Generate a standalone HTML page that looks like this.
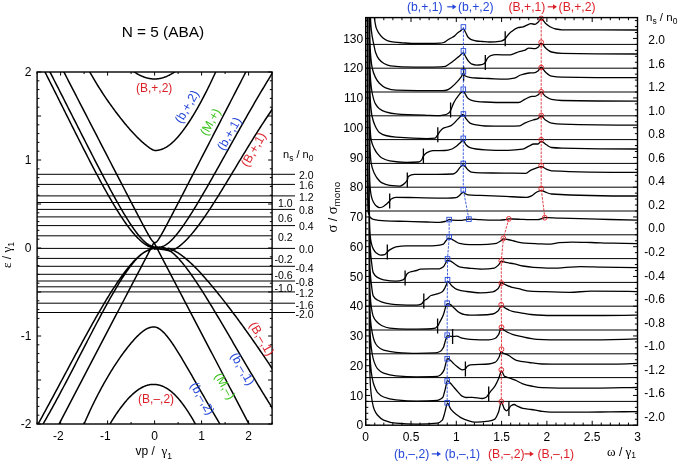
<!DOCTYPE html>
<html><head><meta charset="utf-8"><title>N = 5 (ABA)</title>
<style>html,body{margin:0;padding:0;background:#fff;overflow:hidden}svg{display:block;will-change:transform}text{font-family:"Liberation Sans",sans-serif}</style>
</head><body>
<svg width="679" height="463" viewBox="0 0 679 463" font-family="Liberation Sans, sans-serif"><rect width="679" height="463" fill="#fff"/>
<defs><clipPath id="cl"><rect x="37.1" y="72" width="235" height="352"/></clipPath>
<clipPath id="cr"><rect x="365.7" y="17.6" width="271.8" height="407.6"/></clipPath></defs>
<text x="162.9" y="37" font-size="15.4" text-anchor="middle" fill="#000" >N = 5 (ABA)</text>
<path d="M37.1,174.3H295 M37.1,184.4H295 M37.1,195.9H295 M37.1,209.4H295 M37.1,225.6H295 M37.1,248.4H295 M37.1,266.3H295 M37.1,281H295 M37.1,291.9H295 M37.1,303.2H295 M37.1,312.5H295 M37.1,202.5H272.1 M37.1,216.9H272.1 M37.1,235.8H272.1 M37.1,258.4H272.1 M37.1,274.3H272.1 M37.1,286.8H272.1" stroke="#000" stroke-width="1" fill="none"/>
<text x="299" y="179.1" font-size="10.5" text-anchor="start" fill="#000" >2.0</text>
<text x="299" y="189.2" font-size="10.5" text-anchor="start" fill="#000" >1.6</text>
<text x="299" y="200.7" font-size="10.5" text-anchor="start" fill="#000" >1.2</text>
<text x="299" y="214.2" font-size="10.5" text-anchor="start" fill="#000" >0.8</text>
<text x="299" y="230.4" font-size="10.5" text-anchor="start" fill="#000" >0.4</text>
<text x="299" y="253.2" font-size="10.5" text-anchor="start" fill="#000" >0.0</text>
<text x="295.4" y="271.6" font-size="10.5" text-anchor="start" fill="#000" >-0.4</text>
<text x="295.4" y="286.3" font-size="10.5" text-anchor="start" fill="#000" >-0.8</text>
<text x="295.4" y="297.2" font-size="10.5" text-anchor="start" fill="#000" >-1.2</text>
<text x="295.4" y="308.5" font-size="10.5" text-anchor="start" fill="#000" >-1.6</text>
<text x="295.4" y="317.8" font-size="10.5" text-anchor="start" fill="#000" >-2.0</text>
<text x="292.6" y="207.3" font-size="10.5" text-anchor="end" fill="#000" >1.0</text>
<text x="292.6" y="221.7" font-size="10.5" text-anchor="end" fill="#000" >0.6</text>
<text x="292.6" y="240.6" font-size="10.5" text-anchor="end" fill="#000" >0.2</text>
<text x="292.6" y="263.2" font-size="10.5" text-anchor="end" fill="#000" >-0.2</text>
<text x="292.6" y="279.1" font-size="10.5" text-anchor="end" fill="#000" >-0.6</text>
<text x="292.6" y="291.6" font-size="10.5" text-anchor="end" fill="#000" >-1.0</text>
<g clip-path="url(#cl)"><path d="M32.4,45.82 L33.57,48.27 L34.75,50.73 L35.92,53.18 L37.1,55.63 L38.27,58.07 L39.45,60.52 L40.62,62.96 L41.8,65.4 L42.97,67.84 L44.15,70.27 L45.32,72.67 L46.5,74.99 L47.67,77.31 L48.85,79.64 L50.02,81.97 L51.2,84.3 L52.38,86.64 L53.55,88.98 L54.72,91.32 L55.9,93.66 L57.07,96.01 L58.25,98.36 L59.42,100.71 L60.6,103.06 L61.77,105.41 L62.95,107.76 L64.12,110.11 L65.3,112.47 L66.47,114.82 L67.65,117.17 L68.82,119.52 L70,121.87 L71.17,124.22 L72.35,126.57 L73.52,128.91 L74.7,131.25 L75.87,133.59 L77.05,135.93 L78.22,138.26 L79.4,140.59 L80.58,142.92 L81.75,145.24 L82.92,147.55 L84.1,149.86 L85.27,152.16 L86.45,154.46 L87.62,156.75 L88.8,159.03 L89.97,161.31 L91.15,163.57 L92.32,165.83 L93.5,168.08 L94.67,170.31 L95.85,172.54 L97.02,174.76 L98.2,176.96 L99.38,179.15 L100.55,181.33 L101.72,183.49 L102.9,185.64 L104.07,187.78 L105.25,189.9 L106.42,192 L107.6,194.08 L108.77,196.15 L109.95,198.2 L111.12,200.22 L112.3,202.22 L113.47,204.21 L114.65,206.17 L115.82,208.1 L117,210.01 L118.17,211.89 L119.35,213.74 L120.52,215.57 L121.7,217.36 L122.88,219.12 L124.05,220.85 L125.22,222.54 L126.4,224.2 L126.87,224.85 L127.34,225.49 L127.81,226.13 L128.28,226.76 L128.75,227.39 L129.22,228.01 L129.69,228.62 L130.16,229.23 L130.63,229.83 L131.1,230.42 L131.57,231.01 L132.04,231.58 L132.51,232.15 L132.98,232.72 L133.45,233.27 L133.92,233.82 L134.39,234.36 L134.86,234.89 L135.33,235.41 L135.8,235.93 L136.27,236.43 L136.74,236.93 L137.21,237.42 L137.68,237.9 L138.15,238.37 L138.62,238.83 L139.09,239.29 L139.56,239.73 L140.03,240.17 L140.5,240.59 L140.97,241.01 L141.44,241.41 L141.91,241.81 L142.38,242.19 L142.85,242.57 L143.32,242.93 L143.79,243.28 L144.26,243.63 L144.73,243.96 L145.2,244.28 L145.67,244.59 L146.14,244.89 L146.61,245.18 L147.08,245.46 L147.55,245.73 L148.02,245.98 L148.49,246.23 L148.96,246.46 L149.43,246.69 L149.9,246.9 L150.37,247.11 L150.84,247.3 L151.31,247.49 L151.78,247.67 L152.25,247.9 L152.72,248.16 L153.19,248.41 L153.66,248.66 L154.13,248.9 L154.6,249.15 L155.07,249.09 L155.54,249.04 L156.01,249 L156.48,248.98 L156.95,248.97 L157.42,248.98 L157.89,248.99 L158.36,249.01 L158.83,249.04 L159.3,249.07 L159.77,249.11 L160.24,249.16 L160.71,249.21 L161.18,249.26 L161.65,249.32 L162.12,249.39 L162.59,249.45 L163.06,249.53 L163.53,249.6 L164,249.68 L164.47,249.77 L164.94,249.86 L165.41,249.95 L165.88,250.05 L166.35,250.16 L166.82,250.27 L167.29,250.38 L167.76,250.5 L168.23,250.62 L168.7,250.75 L169.17,250.89 L169.64,251.03 L170.11,251.17 L170.58,251.13 L171.05,250.96 L171.52,250.77 L171.99,250.58 L172.46,250.38 L172.93,250.16 L173.4,249.94 L173.87,249.7 L174.34,249.45 L174.81,249.19 L175.28,248.92 L175.75,248.64 L176.22,248.35 L176.69,248.05 L177.16,247.74 L177.63,247.42 L178.1,247.09 L178.57,246.75 L179.04,246.41 L179.51,246.05 L179.98,245.68 L180.45,245.31 L180.92,244.92 L181.39,244.53 L181.86,244.13 L182.33,243.72 L182.8,243.3 L183.97,242.22 L185.15,241.09 L186.32,239.91 L187.5,238.69 L188.67,237.42 L189.85,236.11 L191.03,234.77 L192.2,233.38 L193.38,231.96 L194.55,230.5 L195.72,229.01 L196.9,227.49 L198.07,225.94 L199.25,224.36 L200.42,222.76 L201.6,221.13 L202.77,219.47 L203.95,217.79 L205.12,216.09 L206.3,214.36 L207.47,212.62 L208.65,210.86 L209.82,209.08 L211,207.29 L212.18,205.48 L213.35,203.65 L214.52,201.81 L215.7,199.96 L216.88,198.1 L218.05,196.23 L219.22,194.34 L220.4,192.45 L221.57,190.55 L222.75,188.64 L223.93,186.72 L225.1,184.8 L226.27,182.87 L227.45,180.94 L228.62,179 L229.8,177.06 L230.97,175.11 L232.15,173.17 L233.32,171.22 L234.5,169.27 L235.68,167.32 L236.85,165.37 L238.02,163.42 L239.2,161.48 L240.38,159.53 L241.55,157.59 L242.72,155.65 L243.9,153.71 L245.07,151.78 L246.25,149.85 L247.43,147.93 L248.6,146.01 L249.77,144.1 L250.95,142.19 L252.12,140.29 L253.3,138.4 L254.47,136.52 L255.65,134.65 L256.82,132.78 L258,130.92 L259.18,129.08 L260.35,127.24 L261.52,125.41 L262.7,123.6 L263.88,121.8 L265.05,120 L266.23,118.22 L267.4,116.46 L268.57,114.71 L269.75,112.97 L270.93,111.24 L272.1,109.53 L273.27,107.63 L274.45,105.59 L275.62,103.54 L276.8,101.5 M32.4,-61.04 L33.57,-59.21 L34.75,-57.38 L35.92,-55.55 L37.1,-53.72 L38.27,-51.89 L39.45,-50.07 L40.62,-48.25 L41.8,-46.43 L42.97,-44.62 L44.15,-42.81 L45.32,-41 L46.5,-39.2 L47.67,-37.39 L48.85,-35.6 L50.02,-33.8 L51.2,-32.01 L52.38,-30.22 L53.55,-28.44 L54.72,-26.66 L55.9,-24.88 L57.07,-23.11 L58.25,-21.35 L59.42,-19.58 L60.6,-17.82 L61.77,-16.07 L62.95,-14.32 L64.12,-12.58 L65.3,-10.84 L66.47,-9.1 L67.65,-7.37 L68.82,-5.65 L70,-3.93 L71.17,-2.22 L72.35,-0.51 L73.52,1.19 L74.7,2.88 L75.87,4.57 L77.05,6.25 L78.22,7.92 L79.4,9.59 L80.58,11.24 L81.75,12.9 L82.92,14.54 L84.1,16.17 L85.27,17.8 L86.45,19.41 L87.62,21.02 L88.8,22.62 L89.97,24.21 L91.15,25.79 L92.32,27.35 L93.5,28.91 L94.67,30.45 L95.85,31.99 L97.02,33.51 L98.2,35.02 L99.38,36.51 L100.55,38 L101.72,39.46 L102.9,40.92 L104.07,42.36 L105.25,43.78 L106.42,45.19 L107.6,46.58 L108.77,47.95 L109.95,49.3 L111.12,50.64 L112.3,51.96 L113.47,53.25 L114.65,54.53 L115.82,55.78 L117,57.01 L118.17,58.22 L119.35,59.41 L120.52,60.57 L121.7,61.7 L122.88,62.81 L124.05,63.88 L125.22,64.94 L126.4,65.96 L126.87,66.36 L127.34,66.75 L127.81,67.14 L128.28,67.53 L128.75,67.9 L129.22,68.28 L129.69,68.65 L130.16,69.01 L130.63,69.37 L131.1,69.72 L131.57,70.07 L132.04,70.41 L132.51,70.75 L132.98,71.08 L133.45,71.4 L133.92,71.72 L134.39,72.03 L134.86,72.34 L135.33,72.64 L135.8,72.94 L136.27,73.22 L136.74,73.51 L137.21,73.78 L137.68,74.05 L138.15,74.31 L138.62,74.57 L139.09,74.82 L139.56,75.06 L140.03,75.3 L140.5,75.53 L140.97,75.75 L141.44,75.97 L141.91,76.17 L142.38,76.38 L142.85,76.57 L143.32,76.76 L143.79,76.94 L144.26,77.11 L144.73,77.28 L145.2,77.44 L145.67,77.59 L146.14,77.73 L146.61,77.87 L147.08,78 L147.55,78.12 L148.02,78.23 L148.49,78.34 L148.96,78.44 L149.43,78.53 L149.9,78.61 L150.37,78.68 L150.84,78.75 L151.31,78.81 L151.78,78.86 L152.25,78.91 L152.72,78.94 L153.19,78.97 L153.66,78.99 L154.13,79 L154.6,79 L155.07,79 L155.54,78.99 L156.01,78.97 L156.48,78.94 L156.95,78.91 L157.42,78.86 L157.89,78.81 L158.36,78.75 L158.83,78.68 L159.3,78.61 L159.77,78.52 L160.24,78.43 L160.71,78.33 L161.18,78.22 L161.65,78.11 L162.12,77.98 L162.59,77.85 L163.06,77.71 L163.53,77.57 L164,77.41 L164.47,77.25 L164.94,77.08 L165.41,76.9 L165.88,76.72 L166.35,76.52 L166.82,76.32 L167.29,76.12 L167.76,75.9 L168.23,75.68 L168.7,75.45 L169.17,75.21 L169.64,74.97 L170.11,74.71 L170.58,74.46 L171.05,74.19 L171.52,73.92 L171.99,73.64 L172.46,73.35 L172.93,73.06 L173.4,72.76 L173.87,72.45 L174.34,72.13 L174.81,71.81 L175.28,71.49 L175.75,71.15 L176.22,70.81 L176.69,70.47 L177.16,70.11 L177.63,69.75 L178.1,69.39 L178.57,69.02 L179.04,68.64 L179.51,68.26 L179.98,67.87 L180.45,67.47 L180.92,67.07 L181.39,66.67 L181.86,66.25 L182.33,65.84 L182.8,65.41 L183.97,64.33 L185.15,63.22 L186.32,62.07 L187.5,60.89 L188.67,59.69 L189.85,58.45 L191.03,57.19 L192.2,55.89 L193.38,54.58 L194.55,53.23 L195.72,51.87 L196.9,50.48 L198.07,49.06 L199.25,47.63 L200.42,46.17 L201.6,44.7 L202.77,43.2 L203.95,41.68 L205.12,40.15 L206.3,38.6 L207.47,37.03 L208.65,35.45 L209.82,33.85 L211,32.23 L212.18,30.6 L213.35,28.96 L214.52,27.3 L215.7,25.63 L216.88,23.94 L218.05,22.25 L219.22,20.54 L220.4,18.82 L221.57,17.09 L222.75,15.35 L223.93,13.6 L225.1,11.83 L226.27,10.06 L227.45,8.28 L228.62,6.49 L229.8,4.7 L230.97,2.89 L232.15,1.07 L233.32,-0.75 L234.5,-2.58 L235.68,-4.42 L236.85,-6.26 L238.02,-8.11 L239.2,-9.97 L240.38,-11.84 L241.55,-13.71 L242.72,-15.58 L243.9,-17.47 L245.07,-19.35 L246.25,-21.25 L247.43,-23.15 L248.6,-25.05 L249.77,-26.96 L250.95,-28.88 L252.12,-30.8 L253.3,-32.72 L254.47,-34.65 L255.65,-36.58 L256.82,-38.52 L258,-40.46 L259.18,-42.41 L260.35,-44.36 L261.52,-46.31 L262.7,-48.26 L263.88,-50.23 L265.05,-52.19 L266.23,-54.16 L267.4,-56.13 L268.57,-58.1 L269.75,-60.08 L270.93,-62.06 L272.1,-64.04 L273.27,-66.02 L274.45,-68.01 L275.62,-70 L276.8,-72 M32.4,434.56 L33.57,432.38 L34.75,430.2 L35.92,428.03 L37.1,425.85 L38.27,423.68 L39.45,421.55 L40.62,419.41 L41.8,417.27 L42.97,415.12 L44.15,412.97 L45.32,410.81 L46.5,408.65 L47.67,406.48 L48.85,404.31 L50.02,402.14 L51.2,399.96 L52.38,397.78 L53.55,395.6 L54.72,393.41 L55.9,391.22 L57.07,389.03 L58.25,386.84 L59.42,384.65 L60.6,382.45 L61.77,380.26 L62.95,378.06 L64.12,375.87 L65.3,373.67 L66.47,371.48 L67.65,369.28 L68.82,367.09 L70,364.89 L71.17,362.7 L72.35,360.51 L73.52,358.33 L74.7,356.14 L75.87,353.96 L77.05,351.78 L78.22,349.61 L79.4,347.44 L80.58,345.27 L81.75,343.11 L82.92,340.96 L84.1,338.81 L85.27,336.66 L86.45,334.52 L87.62,332.39 L88.8,330.27 L89.97,328.16 L91.15,326.05 L92.32,323.95 L93.5,321.86 L94.67,319.79 L95.85,317.72 L97.02,315.66 L98.2,313.62 L99.38,311.58 L100.55,309.56 L101.72,307.56 L102.9,305.56 L104.07,303.58 L105.25,301.62 L106.42,299.68 L107.6,297.75 L108.77,295.84 L109.95,293.94 L111.12,292.07 L112.3,290.22 L113.47,288.38 L114.65,286.58 L115.82,284.79 L117,283.03 L118.17,281.29 L119.35,279.58 L120.52,277.9 L121.7,276.25 L122.88,274.62 L124.05,273.03 L125.22,271.47 L126.4,269.95 L126.87,269.35 L127.34,268.76 L127.81,268.17 L128.28,267.59 L128.75,267.01 L129.22,266.44 L129.69,265.88 L130.16,265.32 L130.63,264.77 L131.1,264.23 L131.57,263.69 L132.04,263.16 L132.51,262.64 L132.98,262.13 L133.45,261.62 L133.92,261.12 L134.39,260.62 L134.86,260.14 L135.33,259.66 L135.8,259.19 L136.27,258.73 L136.74,258.27 L137.21,257.83 L137.68,257.39 L138.15,256.96 L138.62,256.54 L139.09,256.13 L139.56,255.73 L140.03,255.33 L140.5,254.95 L140.97,254.57 L141.44,254.2 L141.91,253.85 L142.38,253.5 L142.85,253.16 L143.32,252.84 L143.79,252.52 L144.26,252.21 L144.73,251.91 L145.2,251.63 L145.67,251.35 L146.14,251.08 L146.61,250.83 L147.08,250.58 L147.55,250.34 L148.02,250.12 L148.49,249.9 L148.96,249.69 L149.43,249.43 L149.9,249.18 L150.37,248.94 L150.84,248.71 L151.31,248.5 L151.78,248.3 L152.25,248.12 L152.72,247.95 L153.19,247.79 L153.66,247.65 L154.13,247.52 L154.6,247.4 L155.07,247.62 L155.54,247.82 L156.01,248.02 L156.48,248.2 L156.95,248.37 L157.42,248.53 L157.89,248.68 L158.36,248.81 L158.83,248.93 L159.3,249.04 L159.77,249.13 L160.24,249.21 L160.71,249.27 L161.18,249.32 L161.65,249.35 L162.12,249.37 L162.59,249.38 L163.06,249.37 L163.53,249.35 L164,249.32 L164.47,249.27 L164.94,249.21 L165.41,249.14 L165.88,249.05 L166.35,248.95 L166.82,248.84 L167.29,248.72 L167.76,248.58 L168.23,248.43 L168.7,248.33 L169.17,248.49 L169.64,248.66 L170.11,248.83 L170.58,249.01 L171.05,249.2 L171.52,249.4 L171.99,249.6 L172.46,249.81 L172.93,250.03 L173.4,250.26 L173.87,250.5 L174.34,250.74 L174.81,250.99 L175.28,251.24 L175.75,251.51 L176.22,251.78 L176.69,252.05 L177.16,252.34 L177.63,252.63 L178.1,252.93 L178.57,253.23 L179.04,253.54 L179.51,253.86 L179.98,254.18 L180.45,254.51 L180.92,254.84 L181.39,255.18 L181.86,255.53 L182.33,255.88 L182.8,256.24 L183.97,257.15 L185.15,258.1 L186.32,259.08 L187.5,260.09 L188.67,261.13 L189.85,262.2 L191.03,263.29 L192.2,264.41 L193.38,265.55 L194.55,266.71 L195.72,267.89 L196.9,269.1 L198.07,270.32 L199.25,271.57 L200.42,272.83 L201.6,274.11 L202.77,275.4 L203.95,276.71 L205.12,278.04 L206.3,279.38 L207.47,280.73 L208.65,282.1 L209.82,283.48 L211,284.87 L212.18,286.28 L213.35,287.69 L214.52,289.12 L215.7,290.55 L216.88,292 L218.05,293.46 L219.22,294.92 L220.4,296.4 L221.57,297.88 L222.75,299.38 L223.93,300.88 L225.1,302.39 L226.27,303.91 L227.45,305.43 L228.62,306.97 L229.8,308.51 L230.97,310.06 L232.15,311.61 L233.32,313.18 L234.5,314.75 L235.68,316.32 L236.85,317.91 L238.02,319.5 L239.2,321.1 L240.38,322.7 L241.55,324.31 L242.72,325.93 L243.9,327.56 L245.07,329.19 L246.25,330.82 L247.43,332.47 L248.6,334.12 L249.77,335.77 L250.95,337.44 L252.12,339.11 L253.3,340.78 L254.47,342.47 L255.65,344.16 L256.82,345.85 L258,347.55 L259.18,349.26 L260.35,350.98 L261.52,352.7 L262.7,354.43 L263.88,356.16 L265.05,357.91 L266.23,359.65 L267.4,361.41 L268.57,363.17 L269.75,364.94 L270.93,366.72 L272.1,368.5 L273.27,370.26 L274.45,372.01 L275.62,373.77 L276.8,375.53 M32.4,556.75 L33.57,554.59 L34.75,552.43 L35.92,550.28 L37.1,548.12 L38.27,545.97 L39.45,543.82 L40.62,541.68 L41.8,539.53 L42.97,537.39 L44.15,535.25 L45.32,533.12 L46.5,530.99 L47.67,528.86 L48.85,526.73 L50.02,524.61 L51.2,522.49 L52.38,520.37 L53.55,518.25 L54.72,516.14 L55.9,514.04 L57.07,511.93 L58.25,509.83 L59.42,507.74 L60.6,505.65 L61.77,503.56 L62.95,501.48 L64.12,499.4 L65.3,497.32 L66.47,495.25 L67.65,493.19 L68.82,491.13 L70,489.07 L71.17,487.02 L72.35,484.98 L73.52,482.94 L74.7,480.91 L75.87,478.88 L77.05,476.86 L78.22,474.85 L79.4,472.84 L80.58,470.84 L81.75,468.85 L82.92,466.87 L84.1,464.89 L85.27,462.92 L86.45,460.96 L87.62,459.01 L88.8,457.06 L89.97,455.13 L91.15,453.2 L92.32,451.29 L93.5,449.39 L94.67,447.49 L95.85,445.61 L97.02,443.74 L98.2,441.88 L99.38,440.04 L100.55,438.2 L101.72,436.39 L102.9,434.58 L104.07,432.79 L105.25,431.02 L106.42,429.26 L107.6,427.52 L108.77,425.8 L109.95,424.09 L111.12,422.13 L112.3,420.21 L113.47,418.33 L114.65,416.49 L115.82,414.7 L117,412.96 L118.17,411.26 L119.35,409.61 L120.52,408 L121.7,406.44 L122.88,404.92 L124.05,403.46 L125.22,402.04 L126.4,400.67 L126.87,400.13 L127.34,399.61 L127.81,399.09 L128.28,398.58 L128.75,398.08 L129.22,397.58 L129.69,397.09 L130.16,396.62 L130.63,396.15 L131.1,395.68 L131.57,395.23 L132.04,394.79 L132.51,394.35 L132.98,393.92 L133.45,393.5 L133.92,393.09 L134.39,392.69 L134.86,392.3 L135.33,391.91 L135.8,391.54 L136.27,391.17 L136.74,390.81 L137.21,390.46 L137.68,390.12 L138.15,389.79 L138.62,389.47 L139.09,389.16 L139.56,388.86 L140.03,388.56 L140.5,388.28 L140.97,388.01 L141.44,387.74 L141.91,387.49 L142.38,387.24 L142.85,387.01 L143.32,386.78 L143.79,386.57 L144.26,386.36 L144.73,386.17 L145.2,385.98 L145.67,385.81 L146.14,385.64 L146.61,385.49 L147.08,385.34 L147.55,385.21 L148.02,385.08 L148.49,384.96 L148.96,384.86 L149.43,384.76 L149.9,384.68 L150.37,384.61 L150.84,384.55 L151.31,384.5 L151.78,384.47 L152.25,384.44 L152.72,384.42 L153.19,384.41 L153.66,384.41 L154.13,384.42 L154.6,384.44 L155.07,384.47 L155.54,384.51 L156.01,384.55 L156.48,384.61 L156.95,384.67 L157.42,384.75 L157.89,384.83 L158.36,384.93 L158.83,385.03 L159.3,385.14 L159.77,385.26 L160.24,385.4 L160.71,385.54 L161.18,385.69 L161.65,385.85 L162.12,386.03 L162.59,386.21 L163.06,386.41 L163.53,386.62 L164,386.84 L164.47,387.06 L164.94,387.3 L165.41,387.55 L165.88,387.81 L166.35,388.09 L166.82,388.37 L167.29,388.66 L167.76,388.97 L168.23,389.28 L168.7,389.6 L169.17,389.94 L169.64,390.29 L170.11,390.64 L170.58,391.01 L171.05,391.39 L171.52,391.78 L171.99,392.18 L172.46,392.59 L172.93,393.01 L173.4,393.44 L173.87,393.88 L174.34,394.33 L174.81,394.79 L175.28,395.26 L175.75,395.74 L176.22,396.23 L176.69,396.73 L177.16,397.24 L177.63,397.76 L178.1,398.29 L178.57,398.83 L179.04,399.38 L179.51,399.94 L179.98,400.51 L180.45,401.08 L180.92,401.67 L181.39,402.27 L181.86,402.87 L182.33,403.49 L182.8,404.11 L183.97,405.71 L185.15,407.37 L186.32,409.08 L187.5,410.84 L188.67,412.66 L189.85,414.53 L191.03,416.45 L192.2,418.42 L193.38,420.44 L194.55,422.52 L195.72,424.61 L196.9,426.67 L198.07,428.76 L199.25,430.88 L200.42,433.03 L201.6,435.2 L202.77,437.4 L203.95,439.63 L205.12,441.87 L206.3,444.14 L207.47,446.43 L208.65,448.74 L209.82,451.07 L211,453.42 L212.18,455.79 L213.35,458.17 L214.52,460.57 L215.7,462.99 L216.88,465.42 L218.05,467.87 L219.22,470.33 L220.4,472.8 L221.57,475.29 L222.75,477.79 L223.93,480.3 L225.1,482.82 L226.27,485.36 L227.45,487.9 L228.62,490.46 L229.8,493.02 L230.97,495.59 L232.15,498.18 L233.32,500.77 L234.5,503.37 L235.68,505.98 L236.85,508.59 L238.02,511.22 L239.2,513.85 L240.38,516.49 L241.55,519.13 L242.72,521.79 L243.9,524.44 L245.07,527.11 L246.25,529.78 L247.43,532.46 L248.6,535.14 L249.77,537.82 L250.95,540.52 L252.12,543.21 L253.3,545.92 L254.47,548.62 L255.65,551.34 L256.82,554.05 L258,556.77 L259.18,559.5 L260.35,562.23 L261.52,564.96 L262.7,567.69 L263.88,570.44 L265.05,573.18 L266.23,575.93 L267.4,578.68 L268.57,581.43 L269.75,584.19 L270.93,586.95 L272.1,589.71 L273.27,592.48 L274.45,595.25 L275.62,598.02 L276.8,600.8 M32.4,36.8 L33.57,39.16 L34.75,41.52 L35.92,43.87 L37.1,46.23 L38.27,48.58 L39.45,50.94 L40.62,53.29 L41.8,55.64 L42.97,57.99 L44.15,60.34 L45.32,62.69 L46.5,65.03 L47.67,67.38 L48.85,69.73 L50.02,72.07 L51.2,74.37 L52.38,76.66 L53.55,78.97 L54.72,81.27 L55.9,83.58 L57.07,85.88 L58.25,88.19 L59.42,90.51 L60.6,92.82 L61.77,95.13 L62.95,97.45 L64.12,99.77 L65.3,102.08 L66.47,104.4 L67.65,106.72 L68.82,109.04 L70,111.36 L71.17,113.68 L72.35,116 L73.52,118.32 L74.7,120.64 L75.87,122.96 L77.05,125.28 L78.22,127.6 L79.4,129.91 L80.58,132.23 L81.75,134.54 L82.92,136.85 L84.1,139.16 L85.27,141.47 L86.45,143.77 L87.62,146.07 L88.8,148.37 L89.97,150.67 L91.15,152.96 L92.32,155.24 L93.5,157.53 L94.67,159.81 L95.85,162.08 L97.02,164.35 L98.2,166.61 L99.38,168.87 L100.55,171.12 L101.72,173.36 L102.9,175.59 L104.07,177.82 L105.25,180.04 L106.42,182.25 L107.6,184.45 L108.77,186.64 L109.95,188.82 L111.12,190.99 L112.3,193.14 L113.47,195.28 L114.65,197.41 L115.82,199.52 L117,201.62 L118.17,203.69 L119.35,205.75 L120.52,207.79 L121.7,209.81 L122.88,211.81 L124.05,213.78 L125.22,215.73 L126.4,217.64 L126.87,218.4 L127.34,219.16 L127.81,219.9 L128.28,220.65 L128.75,221.39 L129.22,222.12 L129.69,222.84 L130.16,223.57 L130.63,224.28 L131.1,224.99 L131.57,225.69 L132.04,226.39 L132.51,227.07 L132.98,227.76 L133.45,228.43 L133.92,229.1 L134.39,229.76 L134.86,230.41 L135.33,231.05 L135.8,231.69 L136.27,232.31 L136.74,232.93 L137.21,233.54 L137.68,234.14 L138.15,234.72 L138.62,235.3 L139.09,235.87 L139.56,236.43 L140.03,236.97 L140.5,237.51 L140.97,238.03 L141.44,238.55 L141.91,239.04 L142.38,239.53 L142.85,240.01 L143.32,240.47 L143.79,240.91 L144.26,241.34 L144.73,241.76 L145.2,242.16 L145.67,242.55 L146.14,242.92 L146.61,243.28 L147.08,243.62 L147.55,243.94 L148.02,244.24 L148.49,244.53 L148.96,244.8 L149.43,245.06 L149.9,245.3 L150.37,245.53 L150.84,245.75 L151.31,245.95 L151.78,246.13 L152.25,246.3 L152.72,246.46 L153.19,246.61 L153.66,246.75 L154.13,246.89 L154.6,247.01 L155.07,246.97 L155.54,246.94 L156.01,246.93 L156.48,246.95 L156.95,246.98 L157.42,247.02 L157.89,247.09 L158.36,247.16 L158.83,247.26 L159.3,247.35 L159.77,247.29 L160.24,247.2 L160.71,247.1 L161.18,246.98 L161.65,246.84 L162.12,246.69 L162.59,246.51 L163.06,246.32 L163.53,246.11 L164,245.88 L164.47,245.63 L164.94,245.37 L165.41,245.09 L165.88,244.8 L166.35,244.49 L166.82,244.16 L167.29,243.82 L167.76,243.47 L168.23,243.1 L168.7,242.71 L169.17,242.32 L169.64,241.91 L170.11,241.48 L170.58,241.05 L171.05,240.6 L171.52,240.14 L171.99,239.67 L172.46,239.19 L172.93,238.69 L173.4,238.19 L173.87,237.68 L174.34,237.15 L174.81,236.62 L175.28,236.08 L175.75,235.53 L176.22,234.97 L176.69,234.4 L177.16,233.82 L177.63,233.23 L178.1,232.64 L178.57,232.04 L179.04,231.43 L179.51,230.81 L179.98,230.19 L180.45,229.56 L180.92,228.92 L181.39,228.28 L181.86,227.63 L182.33,226.97 L182.8,226.31 L183.97,224.63 L185.15,222.92 L186.32,221.18 L187.5,219.4 L188.67,217.61 L189.85,215.78 L191.03,213.93 L192.2,212.06 L193.38,210.17 L194.55,208.26 L195.72,206.34 L196.9,204.4 L198.07,202.44 L199.25,200.46 L200.42,198.48 L201.6,196.48 L202.77,194.47 L203.95,192.45 L205.12,190.42 L206.3,188.38 L207.47,186.33 L208.65,184.28 L209.82,182.21 L211,180.15 L212.18,178.07 L213.35,175.99 L214.52,173.91 L215.7,171.82 L216.88,169.72 L218.05,167.63 L219.22,165.53 L220.4,163.42 L221.57,161.32 L222.75,159.21 L223.93,157.11 L225.1,155 L226.27,152.89 L227.45,150.78 L228.62,148.67 L229.8,146.56 L230.97,144.46 L232.15,142.35 L233.32,140.25 L234.5,138.15 L235.68,136.05 L236.85,133.95 L238.02,131.85 L239.2,129.76 L240.38,127.67 L241.55,125.59 L242.72,123.51 L243.9,121.43 L245.07,119.36 L246.25,117.3 L247.43,115.23 L248.6,113.18 L249.77,111.13 L250.95,109.08 L252.12,107.04 L253.3,105.01 L254.47,102.98 L255.65,100.97 L256.82,98.95 L258,96.95 L259.18,94.95 L260.35,92.96 L261.52,90.98 L262.7,89.01 L263.88,87.05 L265.05,85.09 L266.23,83.15 L267.4,81.21 L268.57,79.28 L269.75,77.37 L270.93,75.41 L272.1,73.27 L273.27,71.13 L274.45,68.99 L275.62,66.84 L276.8,64.7 M32.4,-33.23 L33.57,-31.02 L34.75,-28.8 L35.92,-26.59 L37.1,-24.38 L38.27,-22.17 L39.45,-19.96 L40.62,-17.75 L41.8,-15.54 L42.97,-13.34 L44.15,-11.14 L45.32,-8.94 L46.5,-6.74 L47.67,-4.54 L48.85,-2.35 L50.02,-0.16 L51.2,2.03 L52.38,4.22 L53.55,6.4 L54.72,8.59 L55.9,10.77 L57.07,12.94 L58.25,15.12 L59.42,17.29 L60.6,19.46 L61.77,21.63 L62.95,23.79 L64.12,25.95 L65.3,28.11 L66.47,30.26 L67.65,32.41 L68.82,34.55 L70,36.7 L71.17,38.84 L72.35,40.97 L73.52,43.1 L74.7,45.23 L75.87,47.35 L77.05,49.46 L78.22,51.58 L79.4,53.68 L80.58,55.78 L81.75,57.88 L82.92,59.97 L84.1,62.05 L85.27,64.13 L86.45,66.2 L87.62,68.27 L88.8,70.33 L89.97,72.38 L91.15,74.45 L92.32,76.48 L93.5,78.49 L94.67,80.47 L95.85,82.42 L97.02,84.34 L98.2,86.23 L99.38,88.1 L100.55,89.95 L101.72,91.77 L102.9,93.57 L104.07,95.34 L105.25,97.1 L106.42,98.83 L107.6,100.54 L108.77,102.23 L109.95,103.9 L111.12,105.55 L112.3,107.18 L113.47,108.79 L114.65,110.39 L115.82,111.96 L117,113.52 L118.17,115.06 L119.35,116.58 L120.52,118.09 L121.7,119.57 L122.88,121.04 L124.05,122.49 L125.22,123.91 L126.4,125.32 L126.87,125.88 L127.34,126.43 L127.81,126.99 L128.28,127.53 L128.75,128.08 L129.22,128.62 L129.69,129.15 L130.16,129.69 L130.63,130.22 L131.1,130.74 L131.57,131.27 L132.04,131.79 L132.51,132.3 L132.98,132.81 L133.45,133.32 L133.92,133.82 L134.39,134.32 L134.86,134.81 L135.33,135.3 L135.8,135.79 L136.27,136.27 L136.74,136.75 L137.21,137.22 L137.68,137.69 L138.15,138.15 L138.62,138.61 L139.09,139.06 L139.56,139.51 L140.03,139.96 L140.5,140.4 L140.97,140.83 L141.44,141.26 L141.91,141.69 L142.38,142.11 L142.85,142.52 L143.32,142.93 L143.79,143.34 L144.26,143.74 L144.73,144.13 L145.2,144.52 L145.67,144.9 L146.14,145.28 L146.61,145.66 L147.08,146.02 L147.55,146.38 L148.02,146.74 L148.49,147.09 L148.96,147.43 L149.43,147.77 L149.9,148.09 L150.37,148.4 L150.84,148.71 L151.31,148.99 L151.78,149.27 L152.25,149.52 L152.72,149.75 L153.19,149.97 L153.66,150.16 L154.13,150.32 L154.6,150.46 L155.07,150.57 L155.54,150.55 L156.01,150.52 L156.48,150.47 L156.95,150.42 L157.42,150.36 L157.89,150.28 L158.36,150.2 L158.83,150.11 L159.3,150.01 L159.77,149.89 L160.24,149.77 L160.71,149.64 L161.18,149.49 L161.65,149.33 L162.12,149.17 L162.59,148.99 L163.06,148.79 L163.53,148.59 L164,148.37 L164.47,148.14 L164.94,147.9 L165.41,147.65 L165.88,147.39 L166.35,147.11 L166.82,146.82 L167.29,146.52 L167.76,146.21 L168.23,145.89 L168.7,145.56 L169.17,145.21 L169.64,144.86 L170.11,144.49 L170.58,144.11 L171.05,143.72 L171.52,143.32 L171.99,142.91 L172.46,142.49 L172.93,142.06 L173.4,141.62 L173.87,141.17 L174.34,140.71 L174.81,140.24 L175.28,139.76 L175.75,139.27 L176.22,138.77 L176.69,138.26 L177.16,137.74 L177.63,137.22 L178.1,136.68 L178.57,136.14 L179.04,135.59 L179.51,135.03 L179.98,134.46 L180.45,133.88 L180.92,133.29 L181.39,132.7 L181.86,132.1 L182.33,131.49 L182.8,130.87 L183.97,129.3 L185.15,127.67 L186.32,126 L187.5,124.29 L188.67,122.54 L189.85,120.74 L191.03,118.9 L192.2,117.02 L193.38,115.1 L194.55,113.15 L195.72,111.16 L196.9,109.13 L198.07,107.06 L199.25,104.96 L200.42,102.82 L201.6,100.64 L202.77,98.43 L203.95,96.19 L205.12,93.91 L206.3,91.6 L207.47,89.25 L208.65,86.87 L209.82,84.46 L211,82.01 L212.18,79.52 L213.35,77.01 L214.52,74.46 L215.7,71.91 L216.88,69.8 L218.05,67.69 L219.22,65.56 L220.4,63.43 L221.57,61.29 L222.75,59.14 L223.93,56.98 L225.1,54.82 L226.27,52.65 L227.45,50.48 L228.62,48.29 L229.8,46.11 L230.97,43.92 L232.15,41.72 L233.32,39.51 L234.5,37.31 L235.68,35.09 L236.85,32.88 L238.02,30.66 L239.2,28.43 L240.38,26.2 L241.55,23.97 L242.72,21.73 L243.9,19.49 L245.07,17.25 L246.25,15 L247.43,12.75 L248.6,10.49 L249.77,8.24 L250.95,5.98 L252.12,3.71 L253.3,1.45 L254.47,-0.82 L255.65,-3.09 L256.82,-5.37 L258,-7.64 L259.18,-9.92 L260.35,-12.2 L261.52,-14.48 L262.7,-16.77 L263.88,-19.06 L265.05,-21.35 L266.23,-23.64 L267.4,-25.93 L268.57,-28.22 L269.75,-30.52 L270.93,-32.82 L272.1,-35.12 L273.27,-37.42 L274.45,-39.73 L275.62,-42.03 L276.8,-44.34 M32.4,444.89 L33.57,442.6 L34.75,440.3 L35.92,438.02 L37.1,435.73 L38.27,433.44 L39.45,431.15 L40.62,428.87 L41.8,426.59 L42.97,424.3 L44.15,422.18 L45.32,420.13 L46.5,418.07 L47.67,415.99 L48.85,413.9 L50.02,411.8 L51.2,409.69 L52.38,407.56 L53.55,405.43 L54.72,403.28 L55.9,401.12 L57.07,398.95 L58.25,396.78 L59.42,394.59 L60.6,392.39 L61.77,390.19 L62.95,387.98 L64.12,385.76 L65.3,383.53 L66.47,381.3 L67.65,379.06 L68.82,376.82 L70,374.57 L71.17,372.31 L72.35,370.05 L73.52,367.79 L74.7,365.53 L75.87,363.26 L77.05,360.99 L78.22,358.71 L79.4,356.44 L80.58,354.16 L81.75,351.89 L82.92,349.61 L84.1,347.33 L85.27,345.06 L86.45,342.79 L87.62,340.52 L88.8,338.25 L89.97,335.99 L91.15,333.73 L92.32,331.47 L93.5,329.22 L94.67,326.98 L95.85,324.75 L97.02,322.52 L98.2,320.3 L99.38,318.08 L100.55,315.88 L101.72,313.69 L102.9,311.51 L104.07,309.34 L105.25,307.18 L106.42,305.04 L107.6,302.92 L108.77,300.8 L109.95,298.71 L111.12,296.63 L112.3,294.58 L113.47,292.54 L114.65,290.52 L115.82,288.53 L117,286.56 L118.17,284.62 L119.35,282.7 L120.52,280.81 L121.7,278.95 L122.88,277.13 L124.05,275.34 L125.22,273.58 L126.4,271.86 L126.87,271.19 L127.34,270.52 L127.81,269.86 L128.28,269.2 L128.75,268.55 L129.22,267.91 L129.69,267.28 L130.16,266.65 L130.63,266.03 L131.1,265.42 L131.57,264.82 L132.04,264.23 L132.51,263.64 L132.98,263.06 L133.45,262.49 L133.92,261.93 L134.39,261.38 L134.86,260.84 L135.33,260.31 L135.8,259.79 L136.27,259.28 L136.74,258.78 L137.21,258.29 L137.68,257.81 L138.15,257.34 L138.62,256.88 L139.09,256.44 L139.56,256 L140.03,255.58 L140.5,255.17 L140.97,254.77 L141.44,254.39 L141.91,254.02 L142.38,253.66 L142.85,253.31 L143.32,252.98 L143.79,252.66 L144.26,252.36 L144.73,252.07 L145.2,251.79 L145.67,251.53 L146.14,251.28 L146.61,251.05 L147.08,250.83 L147.55,250.63 L148.02,250.44 L148.49,250.26 L148.96,250.1 L149.43,249.95 L149.9,249.81 L150.37,249.6 L150.84,249.37 L151.31,249.15 L151.78,248.95 L152.25,248.75 L152.72,248.56 L153.19,248.38 L153.66,248.2 L154.13,248.04 L154.6,247.89 L155.07,247.9 L155.54,247.89 L156.01,247.85 L156.48,247.8 L156.95,247.72 L157.42,247.63 L157.89,247.51 L158.36,247.38 L158.83,247.23 L159.3,247.07 L159.77,247.02 L160.24,247.03 L160.71,247.06 L161.18,247.11 L161.65,247.17 L162.12,247.25 L162.59,247.35 L163.06,247.46 L163.53,247.59 L164,247.74 L164.47,247.9 L164.94,248.07 L165.41,248.26 L165.88,248.47 L166.35,248.69 L166.82,248.92 L167.29,249.17 L167.76,249.43 L168.23,249.71 L168.7,249.99 L169.17,250.29 L169.64,250.6 L170.11,250.93 L170.58,251.27 L171.05,251.61 L171.52,251.97 L171.99,252.34 L172.46,252.72 L172.93,253.12 L173.4,253.52 L173.87,253.93 L174.34,254.36 L174.81,254.79 L175.28,255.23 L175.75,255.68 L176.22,256.14 L176.69,256.61 L177.16,257.09 L177.63,257.58 L178.1,258.07 L178.57,258.58 L179.04,259.09 L179.51,259.61 L179.98,260.13 L180.45,260.67 L180.92,261.21 L181.39,261.76 L181.86,262.31 L182.33,262.87 L182.8,263.44 L183.97,264.89 L185.15,266.38 L186.32,267.9 L187.5,269.46 L188.67,271.04 L189.85,272.66 L191.03,274.31 L192.2,275.98 L193.38,277.67 L194.55,279.39 L195.72,281.13 L196.9,282.9 L198.07,284.68 L199.25,286.48 L200.42,288.29 L201.6,290.12 L202.77,291.97 L203.95,293.83 L205.12,295.71 L206.3,297.6 L207.47,299.5 L208.65,301.41 L209.82,303.33 L211,305.26 L212.18,307.2 L213.35,309.14 L214.52,311.1 L215.7,313.06 L216.88,315.03 L218.05,317 L219.22,318.98 L220.4,320.97 L221.57,322.96 L222.75,324.95 L223.93,326.95 L225.1,328.95 L226.27,330.95 L227.45,332.96 L228.62,334.96 L229.8,336.97 L230.97,338.98 L232.15,340.99 L233.32,343.01 L234.5,345.02 L235.68,347.03 L236.85,349.04 L238.02,351.05 L239.2,353.06 L240.38,355.06 L241.55,357.07 L242.72,359.07 L243.9,361.07 L245.07,363.07 L246.25,365.07 L247.43,367.06 L248.6,369.05 L249.77,371.03 L250.95,373.01 L252.12,374.99 L253.3,376.96 L254.47,378.93 L255.65,380.89 L256.82,382.85 L258,384.8 L259.18,386.74 L260.35,388.68 L261.52,390.61 L262.7,392.54 L263.88,394.46 L265.05,396.37 L266.23,398.27 L267.4,400.17 L268.57,402.06 L269.75,403.94 L270.93,405.81 L272.1,407.78 L273.27,409.85 L274.45,411.93 L275.62,414 L276.8,416.07 M32.4,510.42 L33.57,508.44 L34.75,506.46 L35.92,504.48 L37.1,502.5 L38.27,500.52 L39.45,498.54 L40.62,496.56 L41.8,494.58 L42.97,492.61 L44.15,490.63 L45.32,488.66 L46.5,486.68 L47.67,484.71 L48.85,482.73 L50.02,480.76 L51.2,478.79 L52.38,476.81 L53.55,474.84 L54.72,472.87 L55.9,470.9 L57.07,468.93 L58.25,466.97 L59.42,465 L60.6,463.03 L61.77,461.07 L62.95,459.11 L64.12,457.14 L65.3,455.18 L66.47,453.22 L67.65,451.26 L68.82,449.3 L70,447.34 L71.17,445.39 L72.35,443.43 L73.52,441.48 L74.7,439.53 L75.87,437.58 L77.05,435.63 L78.22,433.68 L79.4,431.74 L80.58,429.79 L81.75,427.85 L82.92,425.91 L84.1,423.98 L85.27,421.25 L86.45,418.57 L87.62,415.93 L88.8,413.33 L89.97,410.78 L91.15,408.27 L92.32,405.8 L93.5,403.37 L94.67,400.97 L95.85,398.62 L97.02,396.31 L98.2,394.03 L99.38,391.79 L100.55,389.58 L101.72,387.41 L102.9,385.27 L104.07,383.17 L105.25,381.09 L106.42,379.06 L107.6,377.05 L108.77,375.07 L109.95,373.13 L111.12,371.21 L112.3,369.33 L113.47,367.47 L114.65,365.65 L115.82,363.85 L117,362.08 L118.17,360.34 L119.35,358.62 L120.52,356.94 L121.7,355.28 L122.88,353.65 L124.05,352.05 L125.22,350.48 L126.4,348.94 L126.87,348.33 L127.34,347.73 L127.81,347.13 L128.28,346.54 L128.75,345.95 L129.22,345.37 L129.69,344.79 L130.16,344.22 L130.63,343.66 L131.1,343.09 L131.57,342.54 L132.04,341.99 L132.51,341.45 L132.98,340.91 L133.45,340.38 L133.92,339.85 L134.39,339.33 L134.86,338.82 L135.33,338.32 L135.8,337.82 L136.27,337.33 L136.74,336.85 L137.21,336.37 L137.68,335.9 L138.15,335.44 L138.62,334.99 L139.09,334.55 L139.56,334.12 L140.03,333.69 L140.5,333.28 L140.97,332.87 L141.44,332.48 L141.91,332.09 L142.38,331.72 L142.85,331.36 L143.32,331.01 L143.79,330.67 L144.26,330.34 L144.73,330.03 L145.2,329.73 L145.67,329.45 L146.14,329.17 L146.61,328.92 L147.08,328.67 L147.55,328.45 L148.02,328.24 L148.49,328.04 L148.96,327.86 L149.43,327.7 L149.9,327.55 L150.37,327.42 L150.84,327.3 L151.31,327.2 L151.78,327.12 L152.25,327.06 L152.72,327.01 L153.19,326.98 L153.66,326.96 L154.13,326.96 L154.6,326.98 L155.07,327.04 L155.54,327.13 L156.01,327.25 L156.48,327.4 L156.95,327.57 L157.42,327.77 L157.89,328 L158.36,328.25 L158.83,328.52 L159.3,328.82 L159.77,329.14 L160.24,329.47 L160.71,329.83 L161.18,330.21 L161.65,330.6 L162.12,331.01 L162.59,331.44 L163.06,331.89 L163.53,332.35 L164,332.83 L164.47,333.32 L164.94,333.83 L165.41,334.35 L165.88,334.88 L166.35,335.43 L166.82,335.99 L167.29,336.57 L167.76,337.16 L168.23,337.75 L168.7,338.36 L169.17,338.98 L169.64,339.61 L170.11,340.25 L170.58,340.9 L171.05,341.56 L171.52,342.23 L171.99,342.9 L172.46,343.59 L172.93,344.28 L173.4,344.98 L173.87,345.68 L174.34,346.39 L174.81,347.11 L175.28,347.84 L175.75,348.57 L176.22,349.31 L176.69,350.05 L177.16,350.79 L177.63,351.55 L178.1,352.3 L178.57,353.06 L179.04,353.83 L179.51,354.59 L179.98,355.37 L180.45,356.14 L180.92,356.92 L181.39,357.7 L181.86,358.49 L182.33,359.27 L182.8,360.06 L183.97,362.05 L185.15,364.05 L186.32,366.06 L187.5,368.08 L188.67,370.11 L189.85,372.14 L191.03,374.18 L192.2,376.23 L193.38,378.28 L194.55,380.33 L195.72,382.38 L196.9,384.43 L198.07,386.48 L199.25,388.53 L200.42,390.58 L201.6,392.63 L202.77,394.67 L203.95,396.71 L205.12,398.75 L206.3,400.79 L207.47,402.82 L208.65,404.84 L209.82,406.86 L211,408.88 L212.18,410.89 L213.35,412.9 L214.52,414.9 L215.7,416.9 L216.88,418.89 L218.05,420.87 L219.22,422.85 L220.4,424.97 L221.57,427.29 L222.75,429.61 L223.93,431.93 L225.1,434.26 L226.27,436.59 L227.45,438.92 L228.62,441.25 L229.8,443.59 L230.97,445.92 L232.15,448.26 L233.32,450.61 L234.5,452.95 L235.68,455.29 L236.85,457.64 L238.02,459.99 L239.2,462.34 L240.38,464.69 L241.55,467.04 L242.72,469.39 L243.9,471.75 L245.07,474.1 L246.25,476.46 L247.43,478.82 L248.6,481.18 L249.77,483.54 L250.95,485.9 L252.12,488.26 L253.3,490.63 L254.47,492.99 L255.65,495.36 L256.82,497.72 L258,500.09 L259.18,502.46 L260.35,504.83 L261.52,507.2 L262.7,509.57 L263.88,511.94 L265.05,514.31 L266.23,516.68 L267.4,519.05 L268.57,521.43 L269.75,523.8 L270.93,526.18 L272.1,528.55 L273.27,530.93 L274.45,533.3 L275.62,535.68 L276.8,538.06 M32.4,10.89 L33.57,13.16 L34.75,15.44 L35.92,17.72 L37.1,20 L38.27,22.28 L39.45,24.56 L40.62,26.84 L41.8,29.12 L42.97,31.4 L44.15,33.68 L45.32,35.96 L46.5,38.24 L47.67,40.52 L48.85,42.79 L50.02,45.07 L51.2,47.35 L52.38,49.63 L53.55,51.91 L54.72,54.19 L55.9,56.47 L57.07,58.75 L58.25,61.03 L59.42,63.31 L60.6,65.59 L61.77,67.86 L62.95,70.14 L64.12,72.42 L65.3,74.7 L66.47,76.98 L67.65,79.26 L68.82,81.54 L70,83.82 L71.17,86.09 L72.35,88.37 L73.52,90.65 L74.7,92.93 L75.87,95.21 L77.05,97.49 L78.22,99.76 L79.4,102.04 L80.58,104.32 L81.75,106.6 L82.92,108.88 L84.1,111.15 L85.27,113.43 L86.45,115.71 L87.62,117.99 L88.8,120.27 L89.97,122.54 L91.15,124.82 L92.32,127.1 L93.5,129.38 L94.67,131.65 L95.85,133.93 L97.02,136.21 L98.2,138.48 L99.38,140.76 L100.55,143.04 L101.72,145.31 L102.9,147.59 L104.07,149.87 L105.25,152.14 L106.42,154.42 L107.6,156.69 L108.77,158.97 L109.95,161.24 L111.12,163.52 L112.3,165.79 L113.47,168.07 L114.65,170.34 L115.82,172.61 L117,174.89 L118.17,177.16 L119.35,179.43 L120.52,181.7 L121.7,183.97 L122.88,186.24 L124.05,188.51 L125.22,190.78 L126.4,193.05 L126.87,193.95 L127.34,194.86 L127.81,195.77 L128.28,196.67 L128.75,197.58 L129.22,198.49 L129.69,199.39 L130.16,200.3 L130.63,201.2 L131.1,202.11 L131.57,203.01 L132.04,203.91 L132.51,204.82 L132.98,205.72 L133.45,206.63 L133.92,207.53 L134.39,208.43 L134.86,209.33 L135.33,210.23 L135.8,211.13 L136.27,212.03 L136.74,212.93 L137.21,213.83 L137.68,214.73 L138.15,215.63 L138.62,216.53 L139.09,217.42 L139.56,218.32 L140.03,219.21 L140.5,220.1 L140.97,220.99 L141.44,221.88 L141.91,222.77 L142.38,223.66 L142.85,224.54 L143.32,225.43 L143.79,226.31 L144.26,227.19 L144.73,228.06 L145.2,228.93 L145.67,229.8 L146.14,230.66 L146.61,231.52 L147.08,232.37 L147.55,233.22 L148.02,234.05 L148.49,234.88 L148.96,235.7 L149.43,236.5 L149.9,237.29 L150.37,238.05 L150.84,238.79 L151.31,239.5 L151.78,240.17 L152.25,240.79 L152.72,241.35 L153.19,241.84 L153.66,242.22 L154.13,242.5 L154.6,242.65 L155.07,242.65 L155.54,242.52 L156.01,242.26 L156.48,241.89 L156.95,241.42 L157.42,240.87 L157.89,240.25 L158.36,239.59 L158.83,238.88 L159.3,238.14 L159.77,237.38 L160.24,236.6 L160.71,235.8 L161.18,234.98 L161.65,234.15 L162.12,233.32 L162.59,232.47 L163.06,231.62 L163.53,230.77 L164,229.9 L164.47,229.04 L164.94,228.16 L165.41,227.29 L165.88,226.41 L166.35,225.53 L166.82,224.65 L167.29,223.77 L167.76,222.88 L168.23,221.99 L168.7,221.1 L169.17,220.21 L169.64,219.32 L170.11,218.42 L170.58,217.53 L171.05,216.63 L171.52,215.74 L171.99,214.84 L172.46,213.94 L172.93,213.04 L173.4,212.14 L173.87,211.24 L174.34,210.34 L174.81,209.44 L175.28,208.54 L175.75,207.64 L176.22,206.73 L176.69,205.83 L177.16,204.93 L177.63,204.02 L178.1,203.12 L178.57,202.21 L179.04,201.31 L179.51,200.41 L179.98,199.5 L180.45,198.59 L180.92,197.69 L181.39,196.78 L181.86,195.88 L182.33,194.97 L182.8,194.06 L183.97,191.8 L185.15,189.53 L186.32,187.26 L187.5,184.99 L188.67,182.72 L189.85,180.45 L191.03,178.18 L192.2,175.9 L193.38,173.63 L194.55,171.36 L195.72,169.08 L196.9,166.81 L198.07,164.54 L199.25,162.26 L200.42,159.99 L201.6,157.71 L202.77,155.44 L203.95,153.16 L205.12,150.89 L206.3,148.61 L207.47,146.33 L208.65,144.06 L209.82,141.78 L211,139.5 L212.18,137.23 L213.35,134.95 L214.52,132.67 L215.7,130.4 L216.88,128.12 L218.05,125.84 L219.22,123.56 L220.4,121.29 L221.57,119.01 L222.75,116.73 L223.93,114.45 L225.1,112.18 L226.27,109.9 L227.45,107.62 L228.62,105.34 L229.8,103.06 L230.97,100.78 L232.15,98.51 L233.32,96.23 L234.5,93.95 L235.68,91.67 L236.85,89.39 L238.02,87.11 L239.2,84.84 L240.38,82.56 L241.55,80.28 L242.72,78 L243.9,75.72 L245.07,73.44 L246.25,71.16 L247.43,68.88 L248.6,66.61 L249.77,64.33 L250.95,62.05 L252.12,59.77 L253.3,57.49 L254.47,55.21 L255.65,52.93 L256.82,50.65 L258,48.37 L259.18,46.1 L260.35,43.82 L261.52,41.54 L262.7,39.26 L263.88,36.98 L265.05,34.7 L266.23,32.42 L267.4,30.14 L268.57,27.86 L269.75,25.58 L270.93,23.3 L272.1,21.02 L273.27,18.74 L274.45,16.47 L275.62,14.19 L276.8,11.91 M32.4,475 L33.57,472.75 L34.75,470.5 L35.92,468.26 L37.1,466.01 L38.27,463.76 L39.45,461.51 L40.62,459.27 L41.8,457.02 L42.97,454.77 L44.15,452.53 L45.32,450.28 L46.5,448.03 L47.67,445.79 L48.85,443.54 L50.02,441.29 L51.2,439.05 L52.38,436.8 L53.55,434.55 L54.72,432.31 L55.9,430.06 L57.07,427.81 L58.25,425.57 L59.42,423.32 L60.6,421.07 L61.77,418.82 L62.95,416.58 L64.12,414.33 L65.3,412.08 L66.47,409.84 L67.65,407.59 L68.82,405.34 L70,403.1 L71.17,400.85 L72.35,398.6 L73.52,396.36 L74.7,394.11 L75.87,391.86 L77.05,389.62 L78.22,387.37 L79.4,385.12 L80.58,382.87 L81.75,380.63 L82.92,378.38 L84.1,376.13 L85.27,373.89 L86.45,371.64 L87.62,369.39 L88.8,367.15 L89.97,364.9 L91.15,362.65 L92.32,360.41 L93.5,358.16 L94.67,355.91 L95.85,353.67 L97.02,351.42 L98.2,349.17 L99.38,346.93 L100.55,344.68 L101.72,342.43 L102.9,340.18 L104.07,337.94 L105.25,335.69 L106.42,333.44 L107.6,331.2 L108.77,328.95 L109.95,326.7 L111.12,324.46 L112.3,322.21 L113.47,319.96 L114.65,317.72 L115.82,315.47 L117,313.22 L118.17,310.98 L119.35,308.73 L120.52,306.48 L121.7,304.23 L122.88,301.99 L124.05,299.74 L125.22,297.49 L126.4,295.25 L126.87,294.35 L127.34,293.45 L127.81,292.55 L128.28,291.65 L128.75,290.75 L129.22,289.85 L129.69,288.96 L130.16,288.06 L130.63,287.16 L131.1,286.26 L131.57,285.36 L132.04,284.46 L132.51,283.56 L132.98,282.66 L133.45,281.77 L133.92,280.87 L134.39,279.97 L134.86,279.07 L135.33,278.17 L135.8,277.27 L136.27,276.37 L136.74,275.47 L137.21,274.58 L137.68,273.68 L138.15,272.78 L138.62,271.88 L139.09,270.98 L139.56,270.08 L140.03,269.18 L140.5,268.28 L140.97,267.39 L141.44,266.49 L141.91,265.59 L142.38,264.69 L142.85,263.79 L143.32,262.89 L143.79,261.99 L144.26,261.1 L144.73,260.2 L145.2,259.3 L145.67,258.4 L146.14,257.5 L146.61,256.6 L147.08,255.7 L147.55,254.8 L148.02,253.91 L148.49,253.01 L148.96,252.11 L149.43,251.21 L149.9,250.31 L150.37,249.41 L150.84,248.51 L151.31,247.61 L151.78,246.72 L152.25,245.82 L152.72,244.92 L153.19,244.02 L153.66,243.12 L154.13,242.78 L154.6,243.68 L155.07,244.58 L155.54,245.47 L156.01,246.37 L156.48,247.27 L156.95,248.17 L157.42,249.07 L157.89,249.97 L158.36,250.87 L158.83,251.77 L159.3,252.66 L159.77,253.56 L160.24,254.46 L160.71,255.36 L161.18,256.26 L161.65,257.16 L162.12,258.06 L162.59,258.96 L163.06,259.85 L163.53,260.75 L164,261.65 L164.47,262.55 L164.94,263.45 L165.41,264.35 L165.88,265.25 L166.35,266.15 L166.82,267.04 L167.29,267.94 L167.76,268.84 L168.23,269.74 L168.7,270.64 L169.17,271.54 L169.64,272.44 L170.11,273.34 L170.58,274.23 L171.05,275.13 L171.52,276.03 L171.99,276.93 L172.46,277.83 L172.93,278.73 L173.4,279.63 L173.87,280.53 L174.34,281.42 L174.81,282.32 L175.28,283.22 L175.75,284.12 L176.22,285.02 L176.69,285.92 L177.16,286.82 L177.63,287.72 L178.1,288.61 L178.57,289.51 L179.04,290.41 L179.51,291.31 L179.98,292.21 L180.45,293.11 L180.92,294.01 L181.39,294.91 L181.86,295.8 L182.33,296.7 L182.8,297.6 L183.97,299.85 L185.15,302.1 L186.32,304.34 L187.5,306.59 L188.67,308.84 L189.85,311.08 L191.03,313.33 L192.2,315.58 L193.38,317.82 L194.55,320.07 L195.72,322.32 L196.9,324.56 L198.07,326.81 L199.25,329.06 L200.42,331.3 L201.6,333.55 L202.77,335.8 L203.95,338.05 L205.12,340.29 L206.3,342.54 L207.47,344.79 L208.65,347.03 L209.82,349.28 L211,351.53 L212.18,353.77 L213.35,356.02 L214.52,358.27 L215.7,360.51 L216.88,362.76 L218.05,365.01 L219.22,367.25 L220.4,369.5 L221.57,371.75 L222.75,374 L223.93,376.24 L225.1,378.49 L226.27,380.74 L227.45,382.98 L228.62,385.23 L229.8,387.48 L230.97,389.72 L232.15,391.97 L233.32,394.22 L234.5,396.46 L235.68,398.71 L236.85,400.96 L238.02,403.2 L239.2,405.45 L240.38,407.7 L241.55,409.94 L242.72,412.19 L243.9,414.44 L245.07,416.69 L246.25,418.93 L247.43,421.18 L248.6,423.43 L249.77,425.67 L250.95,427.92 L252.12,430.17 L253.3,432.41 L254.47,434.66 L255.65,436.91 L256.82,439.15 L258,441.4 L259.18,443.65 L260.35,445.89 L261.52,448.14 L262.7,450.39 L263.88,452.64 L265.05,454.88 L266.23,457.13 L267.4,459.38 L268.57,461.62 L269.75,463.87 L270.93,466.12 L272.1,468.36 L273.27,470.61 L274.45,472.86 L275.62,475.1 L276.8,477.35" stroke="#000" stroke-width="1.5" fill="none" stroke-linejoin="round"/></g>
<path d="M37.1,424v-2 M37.1,72v2 M60.6,424v-3.6 M60.6,72v3.6 M84.1,424v-2 M84.1,72v2 M107.6,424v-3.6 M107.6,72v3.6 M131.1,424v-2 M131.1,72v2 M154.6,424v-3.6 M154.6,72v3.6 M178.1,424v-2 M178.1,72v2 M201.6,424v-3.6 M201.6,72v3.6 M225.1,424v-2 M225.1,72v2 M248.6,424v-3.6 M248.6,72v3.6 M272.1,424v-2 M272.1,72v2 M37.1,424h4 M272.1,424h-4 M37.1,415.2h2.3 M272.1,415.2h-2.3 M37.1,406.4h2.3 M272.1,406.4h-2.3 M37.1,397.6h2.3 M272.1,397.6h-2.3 M37.1,388.8h2.3 M272.1,388.8h-2.3 M37.1,380h4 M272.1,380h-4 M37.1,371.2h2.3 M272.1,371.2h-2.3 M37.1,362.4h2.3 M272.1,362.4h-2.3 M37.1,353.6h2.3 M272.1,353.6h-2.3 M37.1,344.8h2.3 M272.1,344.8h-2.3 M37.1,336h4 M272.1,336h-4 M37.1,327.2h2.3 M272.1,327.2h-2.3 M37.1,318.4h2.3 M272.1,318.4h-2.3 M37.1,309.6h2.3 M272.1,309.6h-2.3 M37.1,300.8h2.3 M272.1,300.8h-2.3 M37.1,292h4 M272.1,292h-4 M37.1,283.2h2.3 M272.1,283.2h-2.3 M37.1,274.4h2.3 M272.1,274.4h-2.3 M37.1,265.6h2.3 M272.1,265.6h-2.3 M37.1,256.8h2.3 M272.1,256.8h-2.3 M37.1,248h4 M272.1,248h-4 M37.1,239.2h2.3 M272.1,239.2h-2.3 M37.1,230.4h2.3 M272.1,230.4h-2.3 M37.1,221.6h2.3 M272.1,221.6h-2.3 M37.1,212.8h2.3 M272.1,212.8h-2.3 M37.1,204h4 M272.1,204h-4 M37.1,195.2h2.3 M272.1,195.2h-2.3 M37.1,186.4h2.3 M272.1,186.4h-2.3 M37.1,177.6h2.3 M272.1,177.6h-2.3 M37.1,168.8h2.3 M272.1,168.8h-2.3 M37.1,160h4 M272.1,160h-4 M37.1,151.2h2.3 M272.1,151.2h-2.3 M37.1,142.4h2.3 M272.1,142.4h-2.3 M37.1,133.6h2.3 M272.1,133.6h-2.3 M37.1,124.8h2.3 M272.1,124.8h-2.3 M37.1,116h4 M272.1,116h-4 M37.1,107.2h2.3 M272.1,107.2h-2.3 M37.1,98.4h2.3 M272.1,98.4h-2.3 M37.1,89.6h2.3 M272.1,89.6h-2.3 M37.1,80.8h2.3 M272.1,80.8h-2.3 M37.1,72h4 M272.1,72h-4" stroke="#000" stroke-width="1" fill="none"/>
<rect x="37.1" y="72" width="235" height="352" fill="none" stroke="#000" stroke-width="1.4"/>
<text x="31.5" y="76.2" font-size="12" text-anchor="end" fill="#000" >2</text>
<text x="31.5" y="164.2" font-size="12" text-anchor="end" fill="#000" >1</text>
<text x="31.5" y="252.2" font-size="12" text-anchor="end" fill="#000" >0</text>
<text x="31.5" y="340.2" font-size="12" text-anchor="end" fill="#000" >-1</text>
<text x="31.5" y="428.2" font-size="12" text-anchor="end" fill="#000" >-2</text>
<text x="58.3" y="439.5" font-size="12" text-anchor="middle" fill="#000" >-2</text>
<text x="105.3" y="439.5" font-size="12" text-anchor="middle" fill="#000" >-1</text>
<text x="154.6" y="439.5" font-size="12" text-anchor="middle" fill="#000" >0</text>
<text x="201.6" y="439.5" font-size="12" text-anchor="middle" fill="#000" >1</text>
<text x="248.6" y="439.5" font-size="12" text-anchor="middle" fill="#000" >2</text>
<text x="135.5" y="455.3" font-size="12" text-anchor="start" fill="#000" >vp /&#160;&#160;<tspan font-family="Liberation Serif, serif" font-size="13">&#947;</tspan><tspan font-size="8.5" dy="3.2">1</tspan></text>
<text transform="translate(11,268) rotate(-90)" font-size="12" font-family="Liberation Sans, sans-serif"><tspan font-family="Liberation Serif, serif" font-size="13">&#949;</tspan> / <tspan font-family="Liberation Serif, serif" font-size="13">&#947;</tspan><tspan font-size="8.5" dy="2.5">1</tspan></text>
<text x="283" y="157.7" font-size="11" text-anchor="start" fill="#000" >n<tspan font-size="8.5" dy="3">s</tspan><tspan dy="-3"> / n</tspan><tspan font-size="8.5" dy="3">0</tspan></text>
<text transform="translate(190.4,108.8) rotate(-60)" font-size="12.3" text-anchor="middle" fill="#2447d8" font-family="Liberation Sans, sans-serif">(b,+,2)</text>
<text transform="translate(213.9,123.9) rotate(-60)" font-size="12.3" text-anchor="middle" fill="#3cc41e" font-family="Liberation Sans, sans-serif">(M,+)</text>
<text transform="translate(232.8,135.8) rotate(-60)" font-size="12.3" text-anchor="middle" fill="#2447d8" font-family="Liberation Sans, sans-serif">(b,+,1)</text>
<text transform="translate(257.1,151.5) rotate(-60)" font-size="12.3" text-anchor="middle" fill="#db1f27" font-family="Liberation Sans, sans-serif">(B,+,1)</text>
<text transform="translate(198.9,400.5) rotate(60)" font-size="12.3" text-anchor="middle" fill="#2447d8" font-family="Liberation Sans, sans-serif">(b,&#8211;,2)</text>
<text transform="translate(221.3,388.1) rotate(60)" font-size="12.3" text-anchor="middle" fill="#3cc41e" font-family="Liberation Sans, sans-serif">(M,&#8211;)</text>
<text transform="translate(239.1,370.9) rotate(60)" font-size="12.3" text-anchor="middle" fill="#2447d8" font-family="Liberation Sans, sans-serif">(b,&#8211;,1)</text>
<text transform="translate(258.2,340.7) rotate(60)" font-size="12.3" text-anchor="middle" fill="#db1f27" font-family="Liberation Sans, sans-serif">(B,&#8211;,1)</text>
<text x="154.2" y="92.4" font-size="12" text-anchor="middle" fill="#db1f27" >(B,+,2)</text>
<text x="156.1" y="403.3" font-size="12" text-anchor="middle" fill="#db1f27" >(B,&#8211;,2)</text>
<path d="M365.7,401.4H637.5 M365.7,377.6H637.5 M365.7,353.8H637.5 M365.7,330H637.5 M365.7,306.2H637.5 M365.7,282.4H637.5 M365.7,258.6H637.5 M365.7,234.8H637.5 M365.7,211H637.5 M365.7,187.2H637.5 M365.7,163.4H637.5 M365.7,139.6H637.5 M365.7,115.8H637.5 M365.7,92H637.5 M365.7,68.2H637.5 M365.7,44.4H637.5" stroke="#000" stroke-width="1" fill="none"/>
<g clip-path="url(#cr)"><path d="M374.3,17.7 C374.93,22 375.57,26.01 376.2,27.9 C377.07,30.49 377.93,31.79 378.8,33.1 C380.1,35.06 381.4,36.63 382.7,37.7 C384.43,39.12 386.17,40.37 387.9,40.9 C390.07,41.57 392.23,41.95 394.4,42.2 C396.93,42.49 399.47,42.64 402,42.8 C406.83,43.1 411.67,43.5 416.5,43.5 C424.33,43.5 432.17,43.44 440,43.2 C441.23,43.16 442.47,42.86 443.7,42.5 C444.8,42.18 445.9,41.18 447,40.5 C448.2,39.75 449.4,38.89 450.6,38.2 C451.73,37.54 452.87,37.18 454,36.4 C455.17,35.6 456.33,33.94 457.5,33 C458.37,32.31 459.23,31.81 460.1,31.2 C461.2,30.42 462.3,28.8 463.4,28.8 C464.03,28.8 464.67,30.69 465.3,31.8 C466.17,33.32 467.03,36 467.9,37 C469.03,38.31 470.17,39.25 471.3,39.7 C473.03,40.38 474.77,40.77 476.5,41 C478.33,41.25 480.17,41.36 482,41.5 C484.47,41.69 486.93,42 489.4,42 C493.3,42 497.2,41.69 501.1,41.1 C502.3,40.92 503.5,40.25 504.7,39.4 C505.67,38.71 506.63,36.62 507.6,35.5 C508.9,34 510.2,32.6 511.5,31.6 C513.63,29.95 515.77,28.26 517.9,27.7 C519.63,27.24 521.37,27.24 523.1,26.8 C524.4,26.47 525.7,25.61 527,25.1 C528.3,24.59 529.6,23.7 530.9,23.7 C532.27,23.7 533.63,24.3 535,24.3 C536.03,24.3 537.07,23.07 538.1,22.2 C539.13,21.32 540.17,18.7 541.2,18.7 C542.6,18.7 544,21.96 545.4,23.2 C547.1,24.7 548.8,26.14 550.5,27 C552.23,27.88 553.97,28.66 555.7,29 C557.77,29.41 559.83,29.79 561.9,29.8 C586.93,29.98 611.97,30 637,30 M368.94,-510.2 C368.95,-436.31 368.96,-346.55 368.97,-317.4 C369.02,-200.42 369.07,-146.33 369.11,-124.6 C369.24,-63.14 369.37,-41.1 369.5,-28.2 C369.7,-7.76 369.91,1.8 370.11,7.95 C370.5,19.53 370.89,25.93 371.27,29.64 C372.08,37.43 372.89,40.02 373.7,44.1 C374.33,47.29 374.97,50.68 375.6,52.5 C376.67,55.57 377.73,57.66 378.8,59 C380.53,61.17 382.27,62.59 384,63.5 C386.17,64.64 388.33,65.6 390.5,65.9 C394.33,66.43 398.17,66.69 402,66.8 C410.3,67.04 418.6,67.2 426.9,67.2 C431.6,67.2 436.3,67.04 441,66.8 C442.47,66.73 443.93,66.59 445.4,66.3 C446.43,66.1 447.47,65.17 448.5,64.5 C449.47,63.88 450.43,63.13 451.4,62.4 C452.87,61.29 454.33,60.04 455.8,58.9 C456.93,58.02 458.07,57.2 459.2,56.3 C460.6,55.19 462,52.8 463.4,52.8 C464.03,52.8 464.67,54.92 465.3,56 C466.17,57.48 467.03,59.39 467.9,60.5 C469.03,61.95 470.17,63.46 471.3,63.9 C473.03,64.58 474.77,65.1 476.5,65.1 C478.23,65.1 479.97,64.88 481.7,64.6 C482.3,64.5 482.9,64.29 483.5,64 C484.1,63.71 484.7,63.19 485.3,62.5 C486.03,61.65 486.77,59.06 487.5,58.2 C488.57,56.94 489.63,55.92 490.7,55.6 C492.43,55.08 494.17,54.7 495.9,54.7 C500.23,54.7 504.57,54.9 508.9,54.9 C510.63,54.9 512.37,54.12 514.1,53.6 C515.8,53.09 517.5,52.21 519.2,51.7 C520.93,51.18 522.67,50.98 524.4,50.4 C525.9,49.9 527.4,48.2 528.9,48.2 C530.93,48.2 532.97,48.7 535,48.7 C536.03,48.7 537.07,47.93 538.1,47.2 C539.13,46.47 540.17,43.1 541.2,43.1 C542.6,43.1 544,46.59 545.4,47.8 C547.43,49.56 549.47,51.51 551.5,52 C554.97,52.83 558.43,53.33 561.9,53.4 C586.93,53.89 611.97,54 637,54 M368.93,-484 C368.94,-410.41 368.94,-321.03 368.95,-292 C368.98,-175.51 369.01,-121.64 369.05,-100 C369.13,-38.8 369.22,-16.85 369.31,-4 C369.45,16.35 369.59,25.88 369.73,32 C370,43.53 370.27,49.9 370.53,53.6 C371.09,61.36 371.64,65.44 372.2,68 C373.23,72.76 374.27,75.01 375.3,77.1 C376.67,79.87 378.03,81.93 379.4,83.3 C381.47,85.38 383.53,87.06 385.6,87.8 C389.03,89.03 392.47,90 395.9,90.1 C411.6,90.57 427.3,90.7 443,90.7 C444.37,90.7 445.73,90.36 447.1,90 C448.83,89.54 450.57,87.97 452.3,86.6 C454.03,85.23 455.77,83.32 457.5,81.4 C458.67,80.11 459.83,78.69 461,77.1 C461.8,76.01 462.6,73.5 463.4,73.5 C464.03,73.5 464.67,75.66 465.3,76 C466.73,76.77 468.17,77.06 469.6,77.3 C471.73,77.65 473.87,77.87 476,78 C480.23,78.26 484.47,78.33 488.7,78.5 C494.13,78.72 499.57,79.2 505,79.2 C508.13,79.2 511.27,78.72 514.4,78.1 C516.47,77.69 518.53,75.68 520.6,75 C523.37,74.08 526.13,73.28 528.9,73 C530.93,72.8 532.97,72.86 535,72.6 C536,72.47 537,71.66 538,70.9 C539.07,70.09 540.13,67.2 541.2,67.2 C542.6,67.2 544,70.8 545.4,72 C547.43,73.75 549.47,75.73 551.5,76.1 C554.97,76.72 558.43,77.03 561.9,77.1 C586.93,77.57 611.97,77.7 637,77.7 M368.93,-455.4 C368.93,-382.43 368.94,-293.79 368.95,-265 C368.98,-149.48 369.01,-96.06 369.04,-74.6 C369.12,-13.91 369.2,7.86 369.29,20.6 C369.42,40.78 369.55,50.23 369.68,56.3 C369.93,67.73 370.18,74.05 370.43,77.72 C370.95,85.42 371.48,89.2 372,92 C373.1,97.89 374.2,101.54 375.3,103.6 C376.67,106.16 378.03,107.7 379.4,108.7 C381.47,110.22 383.53,111.18 385.6,111.8 C389.03,112.83 392.47,113.62 395.9,113.9 C406.23,114.76 416.57,115 426.9,115.3 C431.27,115.43 435.63,115.6 440,115.6 C441.5,115.6 443,115.24 444.5,114.9 C445.53,114.66 446.57,114.26 447.6,113.7 C448.33,113.3 449.07,112.71 449.8,111.8 C450.43,111.01 451.07,109.15 451.7,107.7 C452.33,106.25 452.97,104.41 453.6,103.1 C454.37,101.52 455.13,100.18 455.9,99 C456.63,97.87 457.37,96.93 458.1,96 C458.87,95.03 459.63,94.02 460.4,93.3 C461.3,92.45 462.2,91.2 463.1,91.2 C463.7,91.2 464.3,92.43 464.9,93.3 C465.43,94.07 465.97,95.49 466.5,96.3 C467.1,97.22 467.7,98.1 468.3,98.6 C469.2,99.35 470.1,99.9 471,100.2 C472.67,100.76 474.33,101.1 476,101.3 C479,101.66 482,101.88 485,102 C491.67,102.27 498.33,102.5 505,102.5 C509.53,102.5 514.07,102.5 518.6,102.5 C520.63,102.5 522.67,100.34 524.7,99.4 C527.13,98.27 529.57,96.3 532,96.3 C533,96.3 534,96.3 535,96.3 C536,96.3 537,95.5 538,94.9 C539.07,94.26 540.13,92.2 541.2,92.2 C542.6,92.2 544,95.35 545.4,96.3 C547.43,97.69 549.47,99.02 551.5,99.4 C554.97,100.04 558.43,100.43 561.9,100.5 C586.93,100.97 611.97,101.1 637,101.1 M368.93,-426.8 C368.93,-354.44 368.94,-266.55 368.95,-238 C368.98,-123.45 369.01,-70.48 369.04,-49.2 C369.12,10.98 369.2,32.56 369.29,45.2 C369.42,65.21 369.55,74.58 369.68,80.6 C369.93,91.94 370.18,98.2 370.43,101.84 C370.95,109.47 371.48,113.44 372,116 C373.1,121.38 374.2,123.94 375.3,126.2 C376.67,129.01 378.03,131.34 379.4,132.4 C381.47,134.01 383.53,134.96 385.6,135.5 C389.03,136.39 392.47,136.93 395.9,137.2 C406.23,138.01 416.57,138.6 426.9,138.6 C429.63,138.6 432.37,138.51 435.1,138.2 C435.93,138.11 436.77,136.15 437.6,135 C438.4,133.89 439.2,132.39 440,131.4 C441,130.17 442,128.81 443,128.3 C444.33,127.62 445.67,127.43 447,127 C448.33,126.57 449.67,126.33 451,125.7 C452.33,125.07 453.67,123.49 455,122.2 C456.33,120.91 457.67,119.13 459,117.9 C460.4,116.61 461.8,114.5 463.2,114.5 C464.13,114.5 465.07,117.5 466,118.7 C467.33,120.41 468.67,122.47 470,123.1 C472,124.04 474,124.43 476,124.8 C479,125.36 482,125.94 485,126 C491.67,126.14 498.33,126.2 505,126.2 C509.87,126.2 514.73,126.1 519.6,125.8 C521.3,125.7 523,123.85 524.7,123.1 C527.47,121.87 530.23,120.88 533,120 C534.67,119.47 536.33,119.33 538,118.6 C539.07,118.13 540.13,115.9 541.2,115.9 C542.6,115.9 544,119.05 545.4,120 C547.43,121.39 549.47,122.72 551.5,123.1 C554.97,123.74 558.43,124.1 561.9,124.2 C586.93,124.94 611.97,125.2 637,125.2 M368.92,-398.2 C368.93,-326.45 368.93,-239.31 368.94,-211 C368.96,-97.42 368.98,-44.9 369,-23.8 C369.06,35.87 369.13,57.27 369.19,69.8 C369.29,89.64 369.38,98.93 369.48,104.9 C369.67,116.14 369.85,122.35 370.04,125.96 C370.42,133.53 370.81,138.07 371.2,140 C372.23,145.15 373.27,146.47 374.3,148.6 C375.33,150.73 376.37,152.4 377.4,153.7 C378.77,155.42 380.13,157.01 381.5,157.8 C384.23,159.38 386.97,160.47 389.7,160.9 C395.2,161.77 400.7,162.4 406.2,162.4 C410.33,162.4 414.47,162.31 418.6,162 C419.63,161.92 420.67,161.04 421.7,159.9 C422.27,159.27 422.83,156.8 423.4,156 C424.57,154.36 425.73,153.31 426.9,152.7 C428.93,151.63 430.97,150.64 433,150.6 C437,150.53 441,150.57 445,150.5 C447.33,150.46 449.67,149.79 452,149 C453.33,148.55 454.67,147.38 456,146.4 C457.33,145.42 458.67,144.08 460,143 C461.07,142.13 462.13,140.5 463.2,140.5 C464.13,140.5 465.07,143.77 466,144.7 C467.33,146.03 468.67,147.11 470,147.6 C472,148.33 474,148.71 476,149 C479,149.43 482,149.77 485,149.9 C491.67,150.19 498.33,150.4 505,150.4 C510.9,150.4 516.8,150 522.7,149.2 C524.77,148.92 526.83,147.03 528.9,146.1 C530.6,145.33 532.3,144 534,144 C535.33,144 536.67,144 538,144 C539.07,144 540.13,141.3 541.2,141.3 C542.93,141.3 544.67,143.77 546.4,144.8 C548.1,145.81 549.8,147.31 551.5,147.5 C554.97,147.9 558.43,148.02 561.9,148.1 C586.93,148.7 611.97,149 637,149 M368.92,-384 C368.93,-311.03 368.93,-222.39 368.94,-193.6 C368.96,-78.08 368.98,-24.66 369,-3.2 C369.06,57.49 369.13,79.26 369.19,92 C369.29,112.18 369.38,121.63 369.48,127.7 C369.67,139.13 369.85,145.45 370.04,149.12 C370.42,156.82 370.81,161.24 371.2,163.4 C372.23,169.15 373.27,171.03 374.3,173.3 C375.33,175.57 376.37,177.19 377.4,178.5 C378.77,180.23 380.13,181.88 381.5,182.6 C384.23,184.03 386.97,184.95 389.7,185.3 C393.13,185.74 396.57,186.1 400,186.1 C401.03,186.1 402.07,185.28 403.1,184.6 C404.5,183.68 405.9,182.64 407.3,180 C407.63,179.37 407.97,176.66 408.3,176.4 C410.37,174.8 412.43,174.3 414.5,174.3 C422.07,174.3 429.63,174.3 437.2,174.3 C442.47,174.3 447.73,174.24 453,174 C454.07,173.95 455.13,173.03 456.2,172.2 C457.1,171.5 458,170 458.9,168.9 C459.63,168 460.37,166.77 461.1,166.2 C461.8,165.66 462.5,165 463.2,165 C463.93,165 464.67,166.09 465.4,166.8 C466.3,167.67 467.2,169.22 468.1,170 C469.2,170.95 470.3,172.02 471.4,172.2 C474.27,172.67 477.13,172.85 480,172.9 C488.33,173.04 496.67,173.03 505,173.1 C511.93,173.16 518.87,173.3 525.8,173.3 C527.5,173.3 529.2,171.03 530.9,170.2 C532.63,169.36 534.37,168.67 536.1,168.1 C537.8,167.54 539.5,166.7 541.2,166.7 C542.93,166.7 544.67,168.54 546.4,169.2 C548.1,169.85 549.8,170.72 551.5,170.8 C580,172.09 608.5,172.3 637,172.3 M368.91,-341 C368.91,-270.48 368.92,-184.82 368.92,-157 C368.93,-45.36 368.95,6.26 368.96,27 C368.99,85.65 369.03,106.69 369.06,119 C369.12,138.5 369.17,147.63 369.23,153.5 C369.33,164.55 369.44,170.66 369.54,174.2 C369.76,181.64 369.98,185.47 370.2,188 C370.53,191.84 370.87,194.06 371.2,195.6 C371.87,198.68 372.53,200.53 373.2,201.8 C374.23,203.77 375.27,205.1 376.3,205.9 C377.33,206.7 378.37,207.6 379.4,207.6 C380.43,207.6 381.47,207.31 382.5,207 C383.87,206.59 385.23,205.05 386.6,203.9 C387.63,203.03 388.67,202.25 389.7,201 C390.07,200.56 390.43,199.56 390.8,199.3 C392.5,198.08 394.2,197.3 395.9,197.3 C402.77,197.3 409.63,197.59 416.5,197.7 C426.83,197.86 437.17,198.1 447.5,198.1 C450.4,198.1 453.3,197.95 456.2,197.6 C457.3,197.47 458.4,196.31 459.5,195.4 C460.2,194.82 460.9,193.71 461.6,193.2 C462.13,192.81 462.67,192.3 463.2,192.3 C463.93,192.3 464.67,193.42 465.4,193.8 C466.3,194.26 467.2,194.82 468.1,194.9 C472.07,195.26 476.03,195.24 480,195.4 C488.33,195.74 496.67,196.06 505,196.4 C512.27,196.7 519.53,197.3 526.8,197.3 C528.53,197.3 530.27,196.4 532,195.6 C533.37,194.97 534.73,193.21 536.1,192.5 C537.8,191.61 539.5,190.5 541.2,190.5 C542.93,190.5 544.67,191.92 546.4,192.5 C548.1,193.07 549.8,193.9 551.5,194 C580,195.65 608.5,196 637,196 M367.31,-319.6 C367.31,-248.77 367.31,-162.74 367.31,-134.8 C367.32,-22.68 367.33,29.17 367.34,50 C367.36,108.91 367.38,130.03 367.4,142.4 C367.43,161.99 367.47,171.16 367.5,177.05 C367.57,188.15 367.63,194.28 367.7,197.84 C367.83,205.31 367.97,210.87 368.1,211.7 C368.8,215.99 369.5,216.53 370.2,217.3 C371.2,218.41 372.2,219.06 373.2,219.3 C377.33,220.29 381.47,220.6 385.6,220.8 C392.47,221.14 399.33,221.2 406.2,221.4 C413.1,221.6 420,221.82 426.9,222 C431.27,222.11 435.63,222.3 440,222.3 C441.67,222.3 443.33,221.92 445,221.5 C445.83,221.29 446.67,220.69 447.5,220.3 C448.17,219.99 448.83,219.4 449.5,219.4 C450.33,219.4 451.17,220.16 452,220.2 C455.33,220.35 458.67,220.4 462,220.4 C463.33,220.4 464.67,219.81 466,219.6 C467,219.44 468,219.2 469,219.2 C472.67,219.2 476.33,219.58 480,219.7 C486.67,219.92 493.33,220.2 500,220.2 C501.67,220.2 503.33,219.94 505,219.7 C506.27,219.52 507.53,218.8 508.8,218.8 C509.87,218.8 510.93,218.95 512,219 C514.67,219.13 517.33,219.21 520,219.3 C523.33,219.41 526.67,219.6 530,219.6 C532.67,219.6 535.33,219.6 538,219.6 C539,219.6 540,219.18 541,218.9 C542.27,218.55 543.53,217.6 544.8,217.6 C545.87,217.6 546.93,217.66 548,217.7 C552,217.84 556,218.09 560,218.2 C566.67,218.39 573.33,218.44 580,218.6 C590,218.84 600,219.22 610,219.5 C619,219.75 628,219.98 637,220.2 M368.91,-295.8 C368.91,-224.97 368.92,-138.94 368.92,-111 C368.93,1.12 368.95,52.97 368.96,73.8 C368.99,132.71 369.03,153.83 369.06,166.2 C369.12,185.79 369.17,194.96 369.23,200.85 C369.33,211.95 369.44,218.08 369.54,221.64 C369.76,229.11 369.98,233.06 370.2,235.5 C370.53,239.2 370.87,241.19 371.2,242.7 C371.87,245.72 372.53,247.63 373.2,248.9 C374.23,250.87 375.27,252.23 376.3,253 C377.7,254.04 379.1,255.1 380.5,255.1 C381.87,255.1 383.23,254.91 384.6,254.6 C385.5,254.39 386.4,252.82 387.3,252 C388.1,251.27 388.9,250.43 389.7,249.9 C391.77,248.53 393.83,247.16 395.9,246.8 C399.33,246.21 402.77,245.8 406.2,245.8 C413.1,245.8 420,245.8 426.9,245.8 C430.6,245.8 434.3,245.6 438,245.3 C439.8,245.15 441.6,244.85 443.4,244.1 C444.27,243.74 445.13,241.66 446,240.7 C446.9,239.7 447.8,238.1 448.7,238.1 C449.83,238.1 450.97,238.87 452.1,239.4 C453.2,239.92 454.3,240.8 455.4,241.4 C456.73,242.13 458.07,243.11 459.4,243.4 C462.93,244.17 466.47,244.7 470,244.7 C473.5,244.7 477,244.7 480.5,244.7 C485.3,244.7 490.1,244.35 494.9,243.7 C496.97,243.42 499.03,241.96 501.1,240.6 C501.77,240.16 502.43,238.9 503.1,238.9 C504.67,238.9 506.23,239.24 507.8,239.5 C510.67,239.97 513.53,241.1 516.4,241.7 C519.23,242.29 522.07,242.98 524.9,243.2 C529.17,243.53 533.43,243.64 537.7,243.8 C541.97,243.96 546.23,244.2 550.5,244.2 C553.37,244.2 556.23,242.92 559.1,242.7 C563.37,242.37 567.63,242.1 571.9,242.1 C578.3,242.1 584.7,242.34 591.1,242.5 C598.2,242.68 605.3,243.04 612.4,243.2 C620.6,243.38 628.8,243.54 637,243.6 M368.92,-284 C368.93,-211.64 368.93,-123.75 368.94,-95.2 C368.96,19.35 368.98,72.32 369,93.6 C369.06,153.78 369.13,175.36 369.19,188 C369.29,208.01 369.38,217.38 369.48,223.4 C369.67,234.74 369.85,241 370.04,244.64 C370.42,252.27 370.81,255.3 371.2,258.8 C371.87,264.82 372.53,271.17 373.2,272.6 C374.6,275.6 376,276.56 377.4,277.4 C379.47,278.63 381.53,279.43 383.6,279.8 C387.7,280.53 391.8,281.1 395.9,281.1 C398.3,281.1 400.7,280.63 403.1,279.8 C403.77,279.57 404.43,278.84 405.1,278 C405.73,277.2 406.37,274.67 407,274 C408,272.95 409,272.36 410,272 C412.17,271.21 414.33,271.11 416.5,270.5 C417.83,270.12 419.17,269.15 420.5,269.1 C426.8,268.86 433.1,269.04 439.4,268.8 C440.73,268.75 442.07,267.89 443.4,266.8 C444.07,266.26 444.73,264.6 445.4,263.5 C446.07,262.4 446.73,260.2 447.4,260.2 C448.3,260.2 449.2,260.58 450.1,260.9 C451.43,261.38 452.77,262.65 454.1,263.5 C455.87,264.62 457.63,266.36 459.4,266.8 C462.93,267.68 466.47,267.98 470,268.3 C474.03,268.67 478.07,269.1 482.1,269.1 C486.2,269.1 490.3,268.8 494.4,268.1 C495.77,267.87 497.13,266.31 498.5,265 C499.5,264.04 500.5,261.2 501.5,261.2 C502.9,261.2 504.3,262.09 505.7,262.4 C508.53,263.04 511.37,263.32 514.2,263.9 C517.07,264.49 519.93,265.53 522.8,266 C526.33,266.58 529.87,267.05 533.4,267.3 C539.1,267.7 544.8,268.1 550.5,268.1 C554.77,268.1 559.03,267.88 563.3,267.7 C569,267.46 574.7,266.6 580.4,266.6 C587.53,266.6 594.67,266.96 601.8,267.1 C613.53,267.33 625.27,267.55 637,267.7 M368.92,-253 C368.93,-181.56 368.93,-94.78 368.94,-66.6 C368.96,46.49 368.98,98.79 369,119.8 C369.06,179.22 369.13,200.53 369.19,213 C369.29,232.76 369.38,242.01 369.48,247.95 C369.67,259.14 369.85,265.33 370.04,268.92 C370.42,276.45 370.81,279.54 371.2,282.9 C371.87,288.68 372.53,294.66 373.2,295.9 C374.6,298.5 376,299.2 377.4,300 C380.13,301.56 382.87,302.52 385.6,303.1 C389.03,303.83 392.47,304.42 395.9,304.6 C402.77,304.96 409.63,305.2 416.5,305.2 C418.23,305.2 419.97,304.66 421.7,303.8 C422.4,303.45 423.1,301.62 423.8,301 C424.83,300.08 425.87,299.75 426.9,299 C428.27,298 429.63,296.06 431,295.5 C433.07,294.65 435.13,294.56 437.2,293.9 C438.9,293.36 440.6,292.97 442.3,291.8 C443.2,291.18 444.1,289.35 445,287.7 C445.47,286.84 445.93,285.6 446.4,284.6 C446.9,283.53 447.4,281.5 447.9,281.5 C449.13,281.5 450.37,284.52 451.6,285.6 C453.33,287.12 455.07,288.67 456.8,289.3 C459.87,290.41 462.93,290.97 466,291.4 C470.83,292.08 475.67,292.8 480.5,292.8 C484.6,292.8 488.7,292.45 492.8,291.8 C494.53,291.52 496.27,290.27 498,288.7 C499.17,287.64 500.33,282.9 501.5,282.9 C502.9,282.9 504.3,284.2 505.7,284.8 C507.83,285.72 509.97,286.85 512.1,287.4 C514.23,287.95 516.37,288.14 518.5,288.6 C521.33,289.21 524.17,290.53 527,290.8 C532,291.27 537,291.42 542,291.6 C551.23,291.93 560.47,292.3 569.7,292.3 C576.83,292.3 583.97,291.2 591.1,291.2 C606.4,291.2 621.7,291.2 637,291.6 M368.92,-246 C368.93,-172.41 368.93,-83.03 368.94,-54 C368.96,62.49 368.98,116.36 369,138 C369.06,199.2 369.13,221.15 369.19,234 C369.29,254.35 369.38,263.88 369.48,270 C369.67,281.53 369.85,287.9 370.04,291.6 C370.42,299.36 370.81,303.09 371.2,306 C371.87,311 372.53,314.48 373.2,316.2 C374.23,318.87 375.27,320.15 376.3,321.3 C378.03,323.23 379.77,324.68 381.5,325.5 C384.23,326.79 386.97,327.78 389.7,328.1 C395.2,328.75 400.7,329.2 406.2,329.2 C413.1,329.2 420,329.14 426.9,329 C429.73,328.94 432.57,328.73 435.4,328.1 C436.27,327.91 437.13,326.68 438,325.5 C438.47,324.87 438.93,323.72 439.4,322.8 C440.73,320.18 442.07,318.12 443.4,314.7 C444.27,312.47 445.13,307.9 446,306 C446.47,304.98 446.93,303.6 447.4,303.6 C448.3,303.6 449.2,303.95 450.1,304.3 C451.43,304.82 452.77,306.89 454.1,308.1 C455.87,309.71 457.63,311.78 459.4,312.7 C461.2,313.64 463,314.43 464.8,314.7 C466.53,314.96 468.27,315.2 470,315.2 C473.5,315.2 477,315.11 480.5,315 C484.6,314.88 488.7,314.65 492.8,314 C494.53,313.72 496.27,312.47 498,311 C499.2,309.98 500.4,305.8 501.6,305.8 C503.13,305.8 504.67,307.9 506.2,308.7 C508.27,309.77 510.33,310.88 512.4,311.4 C515.13,312.08 517.87,312.34 520.6,312.8 C524.03,313.38 527.47,314.23 530.9,314.5 C537.77,315.05 544.63,315.5 551.5,315.5 C568.7,315.5 585.9,315.5 603.1,315.5 C614.4,315.5 625.7,315.29 637,315.1 M368.93,-152.6 C368.94,-87.91 368.94,-9.32 368.95,16.2 C368.98,118.61 369.01,165.98 369.05,185 C369.13,238.81 369.22,258.1 369.31,269.4 C369.45,287.29 369.59,295.67 369.73,301.05 C370,311.19 370.27,316.79 370.53,320.04 C371.09,326.86 371.64,329.8 372.2,332.7 C372.9,336.35 373.6,339.21 374.3,340.9 C375.33,343.39 376.37,345.07 377.4,346.1 C379.47,348.16 381.53,349.6 383.6,350.2 C387.7,351.39 391.8,351.97 395.9,352.3 C402.77,352.84 409.63,353.3 416.5,353.3 C422.7,353.3 428.9,353.2 435.1,352.9 C436.73,352.82 438.37,352.28 440,351.5 C441.13,350.96 442.27,349.56 443.4,347.5 C444.07,346.29 444.73,342.7 445.4,340.8 C446.1,338.8 446.8,335.6 447.5,335.6 C448.13,335.6 448.77,336.1 449.4,336.2 C450.43,336.36 451.47,336.5 452.5,336.5 C453.93,336.5 455.37,336.2 456.8,336.2 C458.57,336.2 460.33,337.83 462.1,338.2 C464.73,338.75 467.37,339.15 470,339.3 C476.23,339.66 482.47,339.9 488.7,339.9 C490.77,339.9 492.83,339.31 494.9,338.5 C496.13,338.02 497.37,336.58 498.6,334.7 C499.43,333.43 500.27,328.1 501.1,328.1 C502.1,328.1 503.1,329.6 504.1,330.2 C506.87,331.85 509.63,333.37 512.4,334.3 C515.13,335.22 517.87,335.82 520.6,336.4 C526.1,337.57 531.6,339.05 537.1,339.3 C545.37,339.67 553.63,339.9 561.9,339.9 C572.2,339.9 582.5,339.9 592.8,339.9 C607.53,339.9 622.27,339.43 637,338.9 M368.93,-188.8 C368.94,-116.44 368.94,-28.55 368.95,0 C368.98,114.55 369.01,167.52 369.05,188.8 C369.13,248.98 369.22,270.56 369.31,283.2 C369.45,303.21 369.59,312.58 369.73,318.6 C370,329.94 370.27,336.2 370.53,339.84 C371.09,347.47 371.64,350.93 372.2,354 C372.9,357.86 373.6,360.49 374.3,362.4 C375.33,365.22 376.37,367.44 377.4,368.6 C379.47,370.92 381.53,372.36 383.6,373.1 C387.7,374.57 391.8,375.46 395.9,375.8 C402.77,376.38 409.63,376.8 416.5,376.8 C423.4,376.8 430.3,376.73 437.2,376.4 C438.37,376.34 439.53,375.54 440.7,374.7 C441.8,373.9 442.9,372.44 444,370.1 C444.6,368.83 445.2,365.35 445.8,363.4 C446.37,361.56 446.93,358.5 447.5,358.5 C448.37,358.5 449.23,359.37 450.1,360 C451.2,360.8 452.3,362.37 453.4,363.4 C454.97,364.87 456.53,366.3 458.1,367.4 C459.43,368.33 460.77,369.8 462.1,369.8 C463.2,369.8 464.3,369.5 465.4,369 C465.97,368.74 466.53,366.97 467.1,366.5 C468.13,365.64 469.17,364.9 470.2,364.8 C476.37,364.18 482.53,364.52 488.7,364 C490.77,363.83 492.83,363.33 494.9,362.4 C496.27,361.79 497.63,359.64 499,357.2 C499.7,355.95 500.4,351.6 501.1,351.6 C501.43,351.6 501.77,352.28 502.1,352.5 C504.13,353.81 506.17,354.16 508.2,355.2 C510.93,356.6 513.67,359.53 516.4,360.3 C520.67,361.5 524.93,361.91 529.2,362.5 C533.47,363.09 537.73,363.92 542,364 C548.63,364.13 555.27,364.2 561.9,364.2 C568.07,364.2 574.23,364.2 580.4,364.2 C587.97,364.2 595.53,364.2 603.1,364.2 C614.4,364.2 625.7,363.78 637,363.3 M368.93,-160.2 C368.94,-88.45 368.94,-1.31 368.95,27 C368.98,140.58 369.01,193.1 369.05,214.2 C369.13,273.87 369.22,295.27 369.31,307.8 C369.45,327.64 369.59,336.93 369.73,342.9 C370,354.14 370.27,360.35 370.53,363.96 C371.09,371.53 371.64,375.01 372.2,378 C372.9,381.76 373.6,384.22 374.3,386.1 C375.33,388.88 376.37,391.1 377.4,392.3 C379.47,394.69 381.53,396.21 383.6,397 C387.7,398.57 391.8,399.5 395.9,399.9 C402.77,400.58 409.63,401.1 416.5,401.1 C423.4,401.1 430.3,401 437.2,400.5 C437.47,400.48 437.73,400.32 438,400.2 C439.57,399.52 441.13,399.16 442.7,397.5 C443.47,396.69 444.23,392.76 445,390.1 C445.83,387.21 446.67,380.7 447.5,380.7 C448.37,380.7 449.23,381.98 450.1,382.8 C451.43,384.06 452.77,385.95 454.1,387.5 C455.43,389.05 456.77,390.65 458.1,392.1 C459.43,393.55 460.77,395.53 462.1,396.2 C463.4,396.85 464.7,397.5 466,397.5 C468.07,397.5 470.13,397.4 472.2,397.4 C475.63,397.4 479.07,398.5 482.5,398.5 C483.87,398.5 485.23,397.85 486.6,397 C487.3,396.56 488,394.97 488.7,394 C489.4,393.03 490.1,392.1 490.8,391.2 C492.17,389.43 493.53,388.21 494.9,386.1 C496.27,383.99 497.63,381.07 499,377.8 C499.8,375.88 500.6,371 501.4,371 C502.47,371 503.53,375.8 504.6,376.4 C506.4,377.41 508.2,377.47 510,378.1 C511.77,378.72 513.53,379.44 515.3,380.2 C517.8,381.28 520.3,382.95 522.8,383.8 C525.63,384.76 528.47,385.44 531.3,386 C534.87,386.71 538.43,387.55 542,387.7 C547.67,387.95 553.33,388.1 559,388.1 C569.7,388.1 580.4,388.1 591.1,388.1 C601.77,388.1 612.43,387.84 623.1,387.7 C627.73,387.64 632.37,387.57 637,387.5 M368.93,-143.6 C368.94,-70.93 368.94,17.33 368.95,46 C368.98,161.03 369.01,214.23 369.05,235.6 C369.13,296.04 369.22,317.71 369.31,330.4 C369.45,350.5 369.59,359.91 369.73,365.95 C370,377.34 370.27,383.63 370.53,387.28 C371.09,394.94 371.64,398.45 372.2,401.5 C372.9,405.33 373.6,408.11 374.3,409.8 C375.33,412.3 376.37,413.81 377.4,415 C379.47,417.37 381.53,419.25 383.6,420.1 C387.7,421.78 391.8,422.85 395.9,423.2 C402.77,423.79 409.63,424.2 416.5,424.2 C423.4,424.2 430.3,423.95 437.2,423.2 C438.9,423.02 440.6,421.95 442.3,420.1 C443.2,419.12 444.1,414.82 445,411.9 C445.83,409.19 446.67,403.2 447.5,403.2 C448.53,403.2 449.57,407.44 450.6,408.8 C452.3,411.04 454,412.57 455.7,413.9 C458.47,416.07 461.23,418.08 464,419.1 C468.1,420.62 472.2,422.2 476.3,422.2 C480.43,422.2 484.57,421.71 488.7,421.1 C490.77,420.79 492.83,420.32 494.9,419.1 C496.13,418.37 497.37,415.06 498.6,411.9 C499.53,409.51 500.47,401.8 501.4,401.8 C501.93,401.8 502.47,404.25 503,405.5 C503.53,406.75 504.07,408.7 504.6,409.3 C505.3,410.09 506,410.8 506.7,410.8 C507.2,410.8 507.7,410.01 508.2,409.5 C509.13,408.54 510.07,406.39 511,405.8 C512.07,405.13 513.13,404.5 514.2,404.5 C515.27,404.5 516.33,405.7 517.4,406.2 C519.2,407.04 521,408.03 522.8,408.4 C525.63,408.98 528.47,409.08 531.3,409.5 C534.13,409.92 536.97,410.61 539.8,411 C543.37,411.49 546.93,412.2 550.5,412.2 C560.47,412.2 570.43,412.2 580.4,412.2 C590.27,412.2 600.13,412 610,411.9 C619,411.8 628,411.7 637,411.6" stroke="#000" stroke-width="1.3" fill="none" stroke-linejoin="round"/></g>
<path d="M505.2,31.23v15 M485.3,55v15 M463.6,66.26v15 M450.6,102.57v15 M437.8,127.2v15 M423.4,148.5v15 M407.3,172.5v15 M389.7,193.5v15 M387.3,244.5v15 M405.1,270.5v15 M423.8,293.5v15 M437.6,318.4v15 M452.6,328.99v15 M465.4,361.5v15 M488.7,386.5v15 M508.9,401.08v15" stroke="#000" stroke-width="1.3" fill="none"/>
<path d="M463.4,27 L463.4,50.9 L463.4,71.8 L463.3,89.3 L463.4,114 L463.3,138.4 L463.3,163.5 L463.3,189.8 L468.9,219.1" stroke="#2447d8" stroke-width="0.85" stroke-dasharray="2.6,1.2" fill="none"/>
<path d="M449.1,219.6 L449.2,237 L447.5,259 L447.5,279.7 L447.2,303.2 L447.2,335.2 L447.2,358.7 L447.2,381 L447.2,402.8" stroke="#2447d8" stroke-width="0.85" stroke-dasharray="2.6,1.2" fill="none"/>
<path d="M541.2,18.5 L541.2,42.3 L541.2,67.5 L541.2,91.8 L541.2,115.5 L541.2,139.8 L541.2,165.5 L541.2,188.5 L544.8,217.7" stroke="#db1f27" stroke-width="0.85" stroke-dasharray="2.6,1.2" fill="none"/>
<path d="M508.8,218.9 L503.4,238.4 L501.3,260.6 L501.3,283.2 L501.2,304.8 L501.5,327.3 L501.5,349.2 L501.3,369.8 L501.3,401.6" stroke="#db1f27" stroke-width="0.85" stroke-dasharray="2.6,1.2" fill="none"/>
<rect x="461.1" y="24.7" width="4.6" height="4.6" fill="none" stroke="#2447d8" stroke-width="0.9"/>
<rect x="461.1" y="48.6" width="4.6" height="4.6" fill="none" stroke="#2447d8" stroke-width="0.9"/>
<rect x="461.1" y="69.5" width="4.6" height="4.6" fill="none" stroke="#2447d8" stroke-width="0.9"/>
<rect x="461" y="87" width="4.6" height="4.6" fill="none" stroke="#2447d8" stroke-width="0.9"/>
<rect x="461.1" y="111.7" width="4.6" height="4.6" fill="none" stroke="#2447d8" stroke-width="0.9"/>
<rect x="461" y="136.1" width="4.6" height="4.6" fill="none" stroke="#2447d8" stroke-width="0.9"/>
<rect x="461" y="161.2" width="4.6" height="4.6" fill="none" stroke="#2447d8" stroke-width="0.9"/>
<rect x="461" y="187.5" width="4.6" height="4.6" fill="none" stroke="#2447d8" stroke-width="0.9"/>
<rect x="466.6" y="216.8" width="4.6" height="4.6" fill="none" stroke="#2447d8" stroke-width="0.9"/>
<rect x="446.8" y="217.3" width="4.6" height="4.6" fill="none" stroke="#2447d8" stroke-width="0.9"/>
<rect x="446.9" y="234.7" width="4.6" height="4.6" fill="none" stroke="#2447d8" stroke-width="0.9"/>
<rect x="445.2" y="256.7" width="4.6" height="4.6" fill="none" stroke="#2447d8" stroke-width="0.9"/>
<rect x="445.2" y="277.4" width="4.6" height="4.6" fill="none" stroke="#2447d8" stroke-width="0.9"/>
<rect x="444.9" y="300.9" width="4.6" height="4.6" fill="none" stroke="#2447d8" stroke-width="0.9"/>
<rect x="444.9" y="332.9" width="4.6" height="4.6" fill="none" stroke="#2447d8" stroke-width="0.9"/>
<rect x="444.9" y="356.4" width="4.6" height="4.6" fill="none" stroke="#2447d8" stroke-width="0.9"/>
<rect x="444.9" y="378.7" width="4.6" height="4.6" fill="none" stroke="#2447d8" stroke-width="0.9"/>
<rect x="444.9" y="400.5" width="4.6" height="4.6" fill="none" stroke="#2447d8" stroke-width="0.9"/>
<circle cx="541.2" cy="18.5" r="2.4" fill="none" stroke="#db1f27" stroke-width="0.9"/>
<circle cx="541.2" cy="42.3" r="2.4" fill="none" stroke="#db1f27" stroke-width="0.9"/>
<circle cx="541.2" cy="67.5" r="2.4" fill="none" stroke="#db1f27" stroke-width="0.9"/>
<circle cx="541.2" cy="91.8" r="2.4" fill="none" stroke="#db1f27" stroke-width="0.9"/>
<circle cx="541.2" cy="115.5" r="2.4" fill="none" stroke="#db1f27" stroke-width="0.9"/>
<circle cx="541.2" cy="139.8" r="2.4" fill="none" stroke="#db1f27" stroke-width="0.9"/>
<circle cx="541.2" cy="165.5" r="2.4" fill="none" stroke="#db1f27" stroke-width="0.9"/>
<circle cx="541.2" cy="188.5" r="2.4" fill="none" stroke="#db1f27" stroke-width="0.9"/>
<circle cx="544.8" cy="217.7" r="2.4" fill="none" stroke="#db1f27" stroke-width="0.9"/>
<circle cx="508.8" cy="218.9" r="2.4" fill="none" stroke="#db1f27" stroke-width="0.9"/>
<circle cx="503.4" cy="238.4" r="2.4" fill="none" stroke="#db1f27" stroke-width="0.9"/>
<circle cx="501.3" cy="260.6" r="2.4" fill="none" stroke="#db1f27" stroke-width="0.9"/>
<circle cx="501.3" cy="283.2" r="2.4" fill="none" stroke="#db1f27" stroke-width="0.9"/>
<circle cx="501.2" cy="304.8" r="2.4" fill="none" stroke="#db1f27" stroke-width="0.9"/>
<circle cx="501.5" cy="327.3" r="2.4" fill="none" stroke="#db1f27" stroke-width="0.9"/>
<circle cx="501.5" cy="349.2" r="2.4" fill="none" stroke="#db1f27" stroke-width="0.9"/>
<circle cx="501.3" cy="369.8" r="2.4" fill="none" stroke="#db1f27" stroke-width="0.9"/>
<circle cx="501.3" cy="401.6" r="2.4" fill="none" stroke="#db1f27" stroke-width="0.9"/>
<path d="M365.7,425.2v-4.4 M365.7,17.6v4.4 M374.76,425.2v-2.6 M374.76,17.6v2.6 M383.82,425.2v-2.6 M383.82,17.6v2.6 M392.88,425.2v-2.6 M392.88,17.6v2.6 M401.94,425.2v-2.6 M401.94,17.6v2.6 M411,425.2v-4.4 M411,17.6v4.4 M420.06,425.2v-2.6 M420.06,17.6v2.6 M429.12,425.2v-2.6 M429.12,17.6v2.6 M438.18,425.2v-2.6 M438.18,17.6v2.6 M447.24,425.2v-2.6 M447.24,17.6v2.6 M456.3,425.2v-4.4 M456.3,17.6v4.4 M465.36,425.2v-2.6 M465.36,17.6v2.6 M474.42,425.2v-2.6 M474.42,17.6v2.6 M483.48,425.2v-2.6 M483.48,17.6v2.6 M492.54,425.2v-2.6 M492.54,17.6v2.6 M501.6,425.2v-4.4 M501.6,17.6v4.4 M510.66,425.2v-2.6 M510.66,17.6v2.6 M519.72,425.2v-2.6 M519.72,17.6v2.6 M528.78,425.2v-2.6 M528.78,17.6v2.6 M537.84,425.2v-2.6 M537.84,17.6v2.6 M546.9,425.2v-4.4 M546.9,17.6v4.4 M555.96,425.2v-2.6 M555.96,17.6v2.6 M565.02,425.2v-2.6 M565.02,17.6v2.6 M574.08,425.2v-2.6 M574.08,17.6v2.6 M583.14,425.2v-2.6 M583.14,17.6v2.6 M592.2,425.2v-4.4 M592.2,17.6v4.4 M601.26,425.2v-2.6 M601.26,17.6v2.6 M610.32,425.2v-2.6 M610.32,17.6v2.6 M619.38,425.2v-2.6 M619.38,17.6v2.6 M628.44,425.2v-2.6 M628.44,17.6v2.6 M637.5,425.2v-4.4 M637.5,17.6v4.4 M365.7,425.2h4.4 M637.5,425.2h-4.4 M365.7,419.25h2.6 M637.5,419.25h-2.6 M365.7,413.3h2.6 M637.5,413.3h-2.6 M365.7,407.35h2.6 M637.5,407.35h-2.6 M365.7,401.4h2.6 M637.5,401.4h-2.6 M365.7,395.45h4.4 M637.5,395.45h-4.4 M365.7,389.5h2.6 M637.5,389.5h-2.6 M365.7,383.55h2.6 M637.5,383.55h-2.6 M365.7,377.6h2.6 M637.5,377.6h-2.6 M365.7,371.65h2.6 M637.5,371.65h-2.6 M365.7,365.7h4.4 M637.5,365.7h-4.4 M365.7,359.75h2.6 M637.5,359.75h-2.6 M365.7,353.8h2.6 M637.5,353.8h-2.6 M365.7,347.85h2.6 M637.5,347.85h-2.6 M365.7,341.9h2.6 M637.5,341.9h-2.6 M365.7,335.95h4.4 M637.5,335.95h-4.4 M365.7,330h2.6 M637.5,330h-2.6 M365.7,324.05h2.6 M637.5,324.05h-2.6 M365.7,318.1h2.6 M637.5,318.1h-2.6 M365.7,312.15h2.6 M637.5,312.15h-2.6 M365.7,306.2h4.4 M637.5,306.2h-4.4 M365.7,300.25h2.6 M637.5,300.25h-2.6 M365.7,294.3h2.6 M637.5,294.3h-2.6 M365.7,288.35h2.6 M637.5,288.35h-2.6 M365.7,282.4h2.6 M637.5,282.4h-2.6 M365.7,276.45h4.4 M637.5,276.45h-4.4 M365.7,270.5h2.6 M637.5,270.5h-2.6 M365.7,264.55h2.6 M637.5,264.55h-2.6 M365.7,258.6h2.6 M637.5,258.6h-2.6 M365.7,252.65h2.6 M637.5,252.65h-2.6 M365.7,246.7h4.4 M637.5,246.7h-4.4 M365.7,240.75h2.6 M637.5,240.75h-2.6 M365.7,234.8h2.6 M637.5,234.8h-2.6 M365.7,228.85h2.6 M637.5,228.85h-2.6 M365.7,222.9h2.6 M637.5,222.9h-2.6 M365.7,216.95h4.4 M637.5,216.95h-4.4 M365.7,211h2.6 M637.5,211h-2.6 M365.7,205.05h2.6 M637.5,205.05h-2.6 M365.7,199.1h2.6 M637.5,199.1h-2.6 M365.7,193.15h2.6 M637.5,193.15h-2.6 M365.7,187.2h4.4 M637.5,187.2h-4.4 M365.7,181.25h2.6 M637.5,181.25h-2.6 M365.7,175.3h2.6 M637.5,175.3h-2.6 M365.7,169.35h2.6 M637.5,169.35h-2.6 M365.7,163.4h2.6 M637.5,163.4h-2.6 M365.7,157.45h4.4 M637.5,157.45h-4.4 M365.7,151.5h2.6 M637.5,151.5h-2.6 M365.7,145.55h2.6 M637.5,145.55h-2.6 M365.7,139.6h2.6 M637.5,139.6h-2.6 M365.7,133.65h2.6 M637.5,133.65h-2.6 M365.7,127.7h4.4 M637.5,127.7h-4.4 M365.7,121.75h2.6 M637.5,121.75h-2.6 M365.7,115.8h2.6 M637.5,115.8h-2.6 M365.7,109.85h2.6 M637.5,109.85h-2.6 M365.7,103.9h2.6 M637.5,103.9h-2.6 M365.7,97.95h4.4 M637.5,97.95h-4.4 M365.7,92h2.6 M637.5,92h-2.6 M365.7,86.05h2.6 M637.5,86.05h-2.6 M365.7,80.1h2.6 M637.5,80.1h-2.6 M365.7,74.15h2.6 M637.5,74.15h-2.6 M365.7,68.2h4.4 M637.5,68.2h-4.4 M365.7,62.25h2.6 M637.5,62.25h-2.6 M365.7,56.3h2.6 M637.5,56.3h-2.6 M365.7,50.35h2.6 M637.5,50.35h-2.6 M365.7,44.4h2.6 M637.5,44.4h-2.6 M365.7,38.45h4.4 M637.5,38.45h-4.4 M365.7,32.5h2.6 M637.5,32.5h-2.6 M365.7,26.55h2.6 M637.5,26.55h-2.6 M365.7,20.6h2.6 M637.5,20.6h-2.6" stroke="#000" stroke-width="1" fill="none"/>
<rect x="365.7" y="17.6" width="271.8" height="407.6" fill="none" stroke="#000" stroke-width="1.4"/>
<text x="363.2" y="429.4" font-size="12" text-anchor="end" fill="#000" >0</text>
<text x="363.2" y="399.65" font-size="12" text-anchor="end" fill="#000" >10</text>
<text x="363.2" y="369.9" font-size="12" text-anchor="end" fill="#000" >20</text>
<text x="363.2" y="340.15" font-size="12" text-anchor="end" fill="#000" >30</text>
<text x="363.2" y="310.4" font-size="12" text-anchor="end" fill="#000" >40</text>
<text x="363.2" y="280.65" font-size="12" text-anchor="end" fill="#000" >50</text>
<text x="363.2" y="250.9" font-size="12" text-anchor="end" fill="#000" >60</text>
<text x="363.2" y="221.15" font-size="12" text-anchor="end" fill="#000" >70</text>
<text x="363.2" y="191.4" font-size="12" text-anchor="end" fill="#000" >80</text>
<text x="363.2" y="161.65" font-size="12" text-anchor="end" fill="#000" >90</text>
<text x="363.2" y="131.9" font-size="12" text-anchor="end" fill="#000" >100</text>
<text x="363.2" y="102.15" font-size="12" text-anchor="end" fill="#000" >110</text>
<text x="363.2" y="72.4" font-size="12" text-anchor="end" fill="#000" >120</text>
<text x="363.2" y="42.65" font-size="12" text-anchor="end" fill="#000" >130</text>
<text x="365.7" y="440.5" font-size="12" text-anchor="middle" fill="#000" >0</text>
<text x="411" y="440.5" font-size="12" text-anchor="middle" fill="#000" >0.5</text>
<text x="456.3" y="440.5" font-size="12" text-anchor="middle" fill="#000" >1</text>
<text x="501.6" y="440.5" font-size="12" text-anchor="middle" fill="#000" >1.5</text>
<text x="546.9" y="440.5" font-size="12" text-anchor="middle" fill="#000" >2</text>
<text x="592.2" y="440.5" font-size="12" text-anchor="middle" fill="#000" >2.5</text>
<text x="637.5" y="440.5" font-size="12" text-anchor="middle" fill="#000" >3</text>
<text x="607" y="455.5" font-size="12" text-anchor="start" fill="#000" ><tspan font-family="Liberation Serif, serif" font-size="13">&#969;</tspan> / <tspan font-family="Liberation Serif, serif" font-size="13">&#947;</tspan><tspan font-size="8.5" dy="2.5">1</tspan></text>
<text transform="translate(336.6,232.5) rotate(-90)" font-size="12.5" font-family="Liberation Sans, sans-serif"><tspan font-family="Liberation Serif, serif" font-size="14.5">&#963;</tspan> / <tspan font-family="Liberation Serif, serif" font-size="14.5">&#963;</tspan><tspan font-size="9.8" dy="3">mono</tspan></text>
<text x="646" y="20.7" font-size="11.5" text-anchor="start" fill="#000" >n<tspan font-size="8.5" dy="3">s</tspan><tspan dy="-3"> / n</tspan><tspan font-size="8.5" dy="3">0</tspan></text>
<text x="648.3" y="44.3" font-size="12" text-anchor="start" fill="#000" >2.0</text>
<text x="648.3" y="67.82" font-size="12" text-anchor="start" fill="#000" >1.6</text>
<text x="648.3" y="91.34" font-size="12" text-anchor="start" fill="#000" >1.2</text>
<text x="648.3" y="114.86" font-size="12" text-anchor="start" fill="#000" >1.0</text>
<text x="648.3" y="138.38" font-size="12" text-anchor="start" fill="#000" >0.8</text>
<text x="648.3" y="161.9" font-size="12" text-anchor="start" fill="#000" >0.6</text>
<text x="648.3" y="185.42" font-size="12" text-anchor="start" fill="#000" >0.4</text>
<text x="648.3" y="208.94" font-size="12" text-anchor="start" fill="#000" >0.2</text>
<text x="648.3" y="232.46" font-size="12" text-anchor="start" fill="#000" >0.0</text>
<text x="644.3" y="255.98" font-size="12" text-anchor="start" fill="#000" >-0.2</text>
<text x="644.3" y="279.5" font-size="12" text-anchor="start" fill="#000" >-0.4</text>
<text x="644.3" y="303.02" font-size="12" text-anchor="start" fill="#000" >-0.6</text>
<text x="644.3" y="326.54" font-size="12" text-anchor="start" fill="#000" >-0.8</text>
<text x="644.3" y="350.06" font-size="12" text-anchor="start" fill="#000" >-1.0</text>
<text x="644.3" y="373.58" font-size="12" text-anchor="start" fill="#000" >-1.2</text>
<text x="644.3" y="397.1" font-size="12" text-anchor="start" fill="#000" >-1.6</text>
<text x="644.3" y="420.62" font-size="12" text-anchor="start" fill="#000" >-2.0</text>
<text x="407" y="10.5" font-size="12.2" text-anchor="start" fill="#2447d8" >(b,+,1)</text>
<path d="M447.2,6.8H453.5" stroke="#2447d8" stroke-width="1.2"/>
<path d="M456.5,6.8 l-4,-2.6 v5.2z" fill="#2447d8"/>
<text x="458" y="10.5" font-size="12.2" text-anchor="start" fill="#2447d8" >(b,+,2)</text>
<text x="508.5" y="10.5" font-size="12.2" text-anchor="start" fill="#db1f27" >(B,+,1)</text>
<path d="M547.7,6.8H554" stroke="#db1f27" stroke-width="1.2"/>
<path d="M557,6.8 l-4,-2.6 v5.2z" fill="#db1f27"/>
<text x="558.6" y="10.5" font-size="12.2" text-anchor="start" fill="#db1f27" >(B,+,2)</text>
<text x="394" y="457.6" font-size="12.2" text-anchor="start" fill="#2447d8" >(b,&#8211;,2)</text>
<path d="M431.8,453.9H438" stroke="#2447d8" stroke-width="1.2"/>
<path d="M441,453.9 l-4,-2.6 v5.2z" fill="#2447d8"/>
<text x="444.8" y="457.6" font-size="12.2" text-anchor="start" fill="#2447d8" >(b,&#8211;,1)</text>
<text x="488" y="457.6" font-size="12.2" text-anchor="start" fill="#db1f27" >(B,&#8211;,2)</text>
<path d="M524.5,453.9H530.8" stroke="#db1f27" stroke-width="1.2"/>
<path d="M533.8,453.9 l-4,-2.6 v5.2z" fill="#db1f27"/>
<text x="537.5" y="457.6" font-size="12.2" text-anchor="start" fill="#db1f27" >(B,&#8211;,1)</text></svg>
</body></html>
